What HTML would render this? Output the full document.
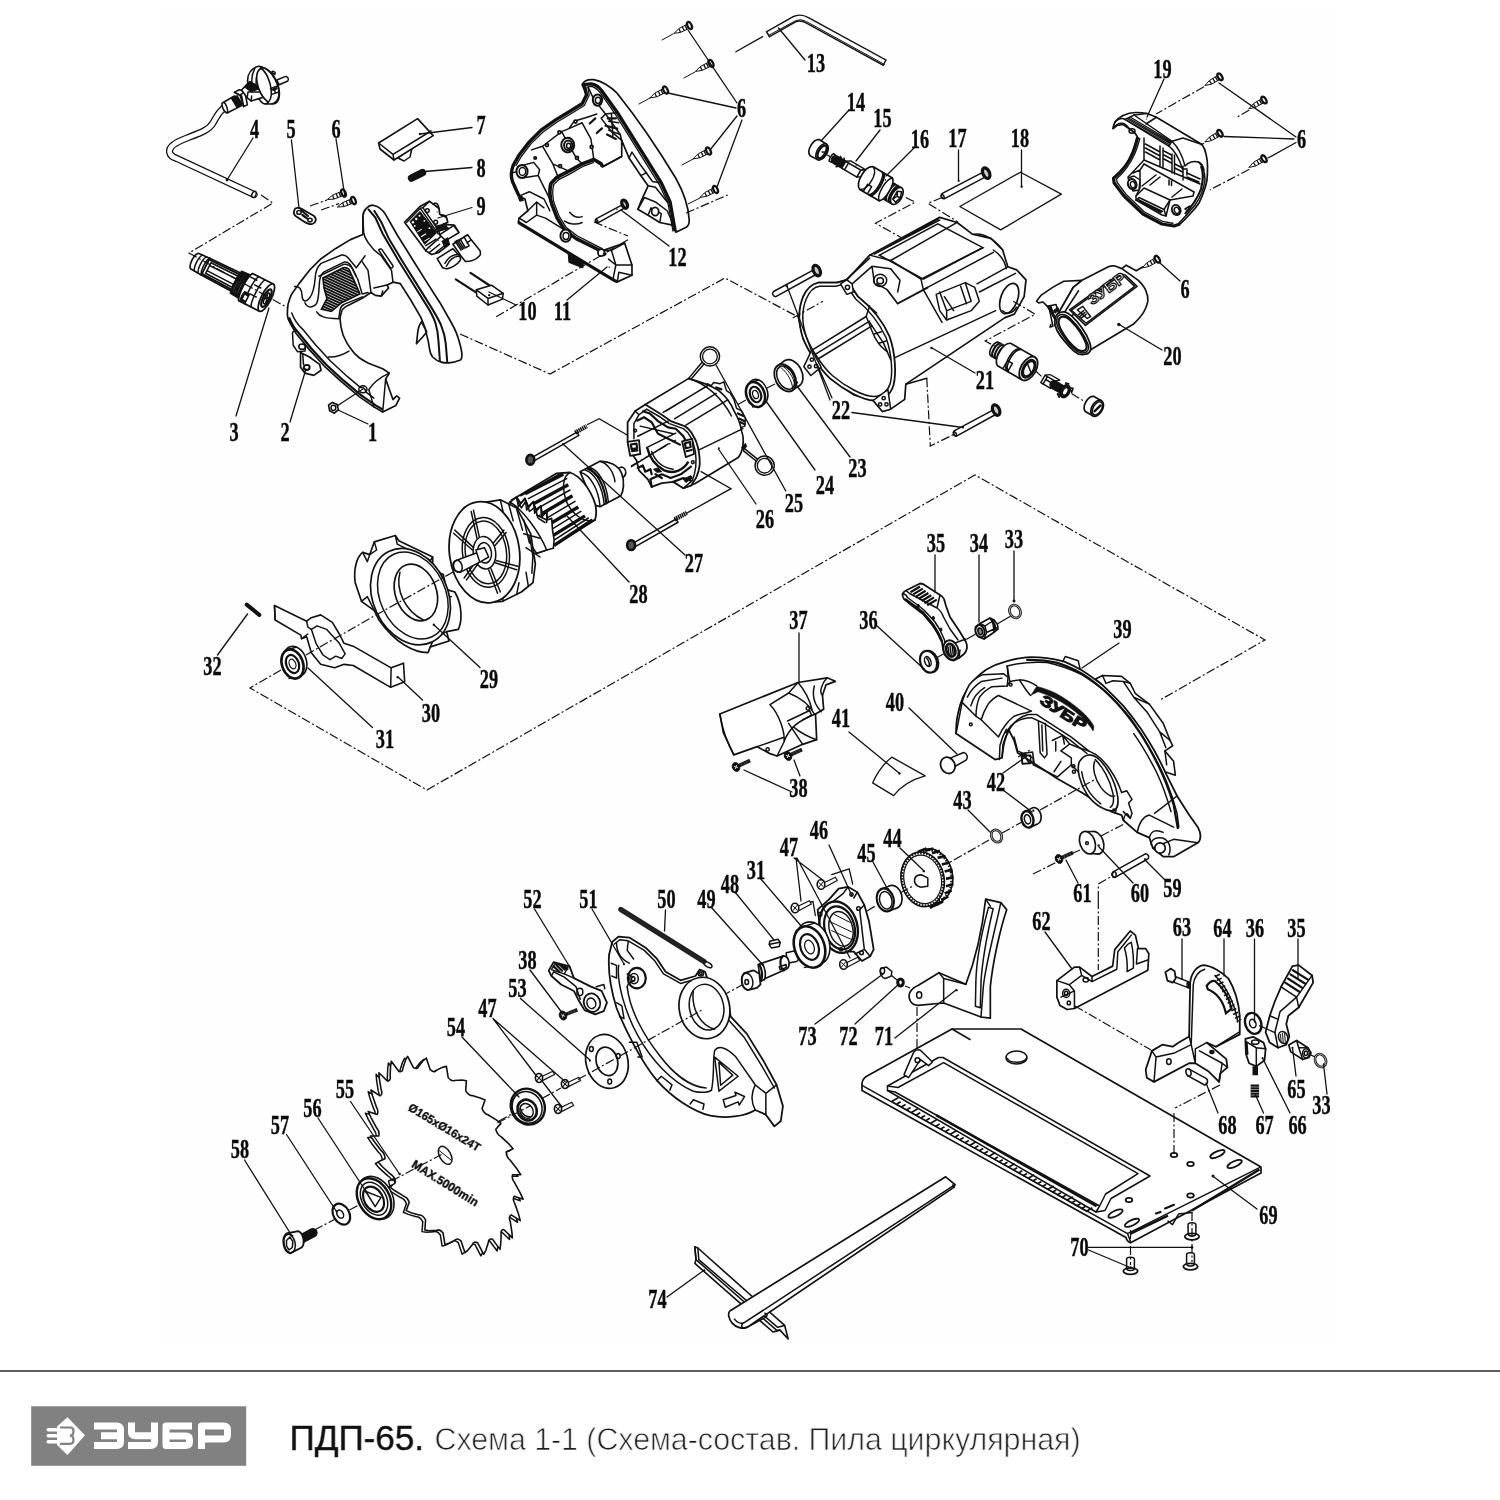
<!DOCTYPE html>
<html><head><meta charset="utf-8"><title>ПДП-65</title>
<style>
html,body{margin:0;padding:0;background:#fff;}
body{width:1500px;height:1500px;overflow:hidden;position:relative;font-family:"Liberation Sans",sans-serif;}
svg{position:absolute;left:0;top:0;display:block}
path,line,ellipse,circle,rect,polygon,polyline{vector-effect:non-scaling-stroke}
.k{fill:none;stroke:#111;stroke-width:1.5;stroke-linecap:round;stroke-linejoin:round}
.w{fill:#fff;stroke:#111;stroke-width:1.5;stroke-linejoin:round}
.b{fill:#111;stroke:#111;stroke-width:1;stroke-linejoin:round}
.t{fill:none;stroke:#111;stroke-width:1;stroke-linecap:round;stroke-linejoin:round}
.h{fill:none;stroke:#111;stroke-width:2.2;stroke-linecap:round;stroke-linejoin:round}
.l{fill:none;stroke:#111;stroke-width:1.3;stroke-linecap:round}
.d{fill:none;stroke:#111;stroke-width:1.2;stroke-dasharray:9 2.5 2 2.5}
</style></head><body>
<svg style="filter:grayscale(1)" width="1500" height="1500" viewBox="0 0 1500 1500">
<rect x="0" y="0" width="1500" height="1500" fill="#fff"/>
<rect x="161" y="9" width="1176" height="1334" fill="#fefefc"/>

<!-- 00_footer.svg -->
<g id="footer">
<rect x="0" y="1370.3" width="1500" height="1.4" fill="#1a1a1a"/>
<rect x="31.2" y="1406.3" width="215" height="59.5" fill="#808184"/>
<g fill="none" stroke="#fff" stroke-width="7" stroke-linejoin="round" stroke-linecap="butt">
<path d="M94,1426 H116.5 Q120.5,1426 120.5,1430 V1441.5 Q120.5,1445.5 116.5,1445.5 H94 M101,1435.75 H120"/>
<path d="M131.5,1422.5 V1432 Q131.5,1435.75 135.5,1435.75 H154.5 M154.5,1422.5 V1441.5 Q154.5,1445.5 150.5,1445.5 H128"/>
<path d="M192,1426 H166 V1445.5 H185.5 Q189.5,1445.5 189.5,1442 V1439.5 Q189.5,1436 185.5,1436 H166"/>
<path d="M201.5,1449 V1426 H223.5 Q227.5,1426 227.5,1430 V1435 Q227.5,1439 223.5,1439 H201.5"/>
</g>
<g fill="#fff" stroke="none">
<path d="M67.5,1417.2 L85,1435.2 L67.5,1455 L57,1445 L57,1426.5 Z"/>
<rect x="46.5" y="1428" width="22" height="3.4" rx="1.7"/>
<rect x="46.5" y="1434" width="22" height="3.4" rx="1.7"/>
<rect x="46.5" y="1440" width="22" height="3.4" rx="1.7"/>
</g>
<path d="M60,1427.5 H70 Q73.5,1427.5 73.5,1431 Q73.5,1435.7 70,1435.7 Q73.5,1435.7 73.5,1440 Q73.5,1443.8 70,1443.8 H60" fill="none" stroke="#808184" stroke-width="2.2"/>
<text x="289.5" y="1449.5" font-family="Liberation Sans" font-size="35.5" fill="#111" stroke="#111" stroke-width="0.35" textLength="134.5" lengthAdjust="spacingAndGlyphs">ПДП-65.</text>
<text x="434.5" y="1449.5" font-family="Liberation Sans" font-size="30.6" fill="#1a1a1a" stroke="#fff" stroke-width="0.75" textLength="646" lengthAdjust="spacingAndGlyphs">Схема 1-1 (Схема-состав. Пила циркулярная)</text>
</g>

<!-- 10_cord.svg -->
<defs>
<g id="scr"><!-- self-tapping screw: head at origin, tip to the left -->
<path class="w" d="M-2,-2.3 L-11,-2.1 L-17.5,0 L-11,2.1 L-2,2.3 Z" style="stroke-width:1"/>
<path d="M-11,-2 L-11,2 M-7,-2.2 L-7,2.2 M-4,-2.2 L-4,2.2" stroke="#111" stroke-width="1.3" fill="none"/>
<ellipse cx="0" cy="0" rx="2" ry="3.8" fill="#fff" stroke="#111" stroke-width="2.3"/>
</g>
<pattern id="hatch" width="12" height="12" patternUnits="userSpaceOnUse" patternTransform="rotate(25)"><rect width="12" height="12" fill="#fff"/><rect width="12" height="9.3" fill="#111"/></pattern>
<pattern id="hatch2" width="2.4" height="2.4" patternUnits="userSpaceOnUse" patternTransform="rotate(-60)"><rect width="2.4" height="2.4" fill="#fff"/><rect width="2.4" height="1.5" fill="#111"/></pattern>
<pattern id="hatch3" width="17" height="17" patternUnits="userSpaceOnUse" patternTransform="rotate(25)"><rect width="17" height="17" fill="#fff"/><rect width="17" height="13" fill="#111"/></pattern>
</defs>
<g transform="translate(150,40) scale(0.2)">
<!-- cord tube -->
<path d="M400,320 C350,345 335,380 315,415 C295,450 250,465 185,490 C120,515 95,535 98,560 C100,580 115,585 135,593 L520,772" fill="none" stroke="#111" stroke-width="7.2" stroke-linecap="round"/>
<path d="M400,320 C350,345 335,380 315,415 C295,450 250,465 185,490 C120,515 95,535 98,560 C100,580 115,585 135,593 L522,773" fill="none" stroke="#fff" stroke-width="4.6" stroke-linecap="round"/>
<ellipse class="w" cx="520" cy="772" rx="10" ry="16" transform="rotate(25 520 772)"/>
<!-- plug -->
</g>
<g transform="translate(200,40) scale(0.08)">
<path class="w" style="stroke-width:1.6" d="M275,790 L430,700 L520,820 L340,912 C300,905 270,830 275,790 Z"/>
<path class="k" d="M300,780 C325,800 350,860 345,908"/>
<path d="M395,722 L470,845 M415,710 L490,835 M435,700 L510,825 M455,692 L528,815" stroke="#111" stroke-width="2.2" fill="none"/>
<path class="w" style="stroke-width:1.6" d="M430,655 L490,622 L560,645 L592,810 L545,832 L520,700 Z"/>
<path class="k" d="M430,655 L500,690 L560,645 M500,690 L545,832"/>
<!-- head disc back -->
<path class="w" style="stroke-width:1.6" d="M595,520 C590,430 640,360 720,332 C760,325 790,345 800,360 L740,740 C690,720 620,640 595,520 Z"/>
<path class="k" d="M690,345 C660,400 640,470 650,540 M770,340 C730,380 700,460 700,540"/>
<path class="w" style="stroke-width:1.6" d="M520,625 L620,520 L860,650 L872,690 L640,762 L590,722 Z"/>
<path class="b" d="M560,592 L628,522 L770,598 L640,650 Z"/>
<path class="k" d="M590,722 L600,650 L860,650 M640,762 L645,700"/>
<ellipse class="w" cx="850" cy="575" rx="120" ry="235" transform="rotate(-22 850 575)" style="stroke-width:1.7"/>
<path class="w" style="stroke-width:1.6" d="M760,350 C800,330 850,370 900,430 C960,510 1000,620 985,700 C975,760 930,800 880,800 L820,800 C870,780 900,720 890,620 C880,520 830,400 760,350 Z"/>
<path class="k" d="M880,610 L975,570 M895,680 L985,650 M930,590 L940,665"/>
<path class="b" d="M905,615 L960,592 L965,610 L910,635 Z"/>
<path class="w" d="M960,500 L1070,455 C1100,455 1112,490 1098,512 L990,560 Z"/>
<path class="w" d="M898,402 C905,385 935,390 940,410 L935,432 Z"/>
<path class="k" d="M740,740 C760,780 800,800 820,800"/>
</g>
<g transform="translate(150,40) scale(0.2)">
<!-- clamp 5 -->
<path class="w" d="M722,850 C725,838 745,836 760,845 L820,880 C835,892 830,915 812,920 C795,925 780,915 765,905 L728,880 C718,872 718,860 722,850 Z" style="stroke-width:1.8"/>
<ellipse class="w" cx="745" cy="862" rx="11" ry="9"/><ellipse class="w" cx="800" cy="900" rx="11" ry="9"/>
<path class="h" d="M755,850 L790,880 M762,875 L785,892"/>
<path class="d" transform="scale(5.000000) translate(-150.0,-40.0)" d="M310.0,206.0 L327.0,200.0 M321.0,210.0 L339.0,203.6"/>
</g>
<use href="#scr" transform="translate(343.5,193) rotate(-22)"/>
<use href="#scr" transform="translate(353.5,200.5) rotate(-22)"/>
<path class="l" d="M253,138 L227,180 M291.4,140 L299,208 M336,139 L345,197"/>
<circle cx="227" cy="180" r="1.4" fill="#111"/>

<!-- 11_btn.svg -->
<g transform="translate(150,40) scale(0.2)">
<!-- 7 button -->
<path class="w" d="M1240,590 L1310,540 L1300,585 L1270,605 Z"/>
<path class="w" d="M1143,515 L1338,393 L1416,478 L1220,600 L1150,545 Z" style="stroke-width:1.6"/>
<path class="k" d="M1143,515 L1215,572 L1405,455 M1215,572 L1220,600"/>
<circle cx="1350" cy="470" r="6" fill="#111"/>
<!-- 8 spring -->
<path d="M1308,690 L1362,663" stroke="#111" stroke-width="7.5" stroke-linecap="round" fill="none"/>
</g>
<path class="l" d="M420,134 L472,127.5 M425,171.5 L472,167.5"/>

<!-- 12_handle.svg -->
<g transform="translate(170,190) scale(0.2)">
<!-- part 3 cord guard -->
</g>
<g transform="translate(180,240) scale(0.08)">
<g transform="translate(215,280) rotate(27) scale(0.97,1.27)">
<path class="w" style="stroke-width:1.6" d="M120,-92 L560,-100 L560,100 L120,92 Z"/>
<path class="k" d="M160,-58 L545,-62 L545,62 L160,58 Z M160,-28 L545,-30 M160,28 L545,30"/>
<path d="M130,-78 L555,-84 M130,78 L555,84" stroke="#111" stroke-width="2" fill="none"/>
<path class="w" style="stroke-width:1.7" d="M-40,-85 L120,-92 L120,92 L-40,85 C-85,60 -85,-60 -40,-85 Z"/>
<path class="k" d="M20,-88 C-18,-60 -18,60 20,88 M75,-90 C38,-60 38,60 75,90 M120,-92 C85,-60 85,60 120,92"/>
<path class="w" style="stroke-width:1.6" d="M560,-120 L700,-128 L700,130 L560,122 Z"/>
<path d="M580,-121 C550,-80 550,80 580,123 M612,-123 C582,-80 582,80 612,125 M644,-125 C614,-80 614,80 644,127 M676,-127 C646,-80 646,80 676,129" stroke="#111" stroke-width="2.4" fill="none"/>
<path class="w" style="stroke-width:1.8" d="M700,-150 L1000,-150 C1065,-100 1065,100 1000,150 L700,150 C655,100 655,-100 700,-150 Z"/>
<path class="k" d="M790,-150 C748,-100 748,100 790,150 M880,-150 C838,-100 838,100 880,150 M790,-60 L880,-60 M790,40 L880,40 M700,-110 L790,-110"/>
<path class="b" d="M715,40 L790,45 L790,150 L715,140 C700,110 700,70 715,40 Z"/>
<path d="M735,70 L775,74 L775,120 L738,116 Z" fill="#fff"/>
<ellipse class="w" cx="1000" cy="0" rx="64" ry="150" style="stroke-width:1.8"/>
<ellipse cx="1004" cy="4" rx="42" ry="95" fill="#fff" stroke="#111" stroke-width="2.2"/>
<ellipse class="k" cx="1008" cy="6" rx="24" ry="58"/>
<path class="k" d="M985,-60 L1030,60 M975,20 L1040,-10"/>
</g>
</g>
<g transform="translate(170,190) scale(0.2)">
<!-- handle half 2 -->
</g>
<g transform="translate(280,200) scale(0.146718)">
<!-- lugs -->
<path class="w" d="M85,905 C90,890 110,885 125,895 L180,960 L170,1030 L120,1035 L90,990 Z"/>
<ellipse class="w" cx="150" cy="1000" rx="22" ry="18"/>
<path class="w" style="stroke-width:1.7" d="M140,1040 L200,1070 L270,1120 L280,1160 L230,1195 L170,1180 L140,1140 Z"/>
<ellipse cx="182" cy="1142" rx="20" ry="17" fill="#fff" stroke="#111" stroke-width="2"/>
<path class="k" d="M155,1050 L160,1120"/>
<!-- silhouette -->
<path class="w" style="stroke-width:1.7" d="M565,110 C565,85 575,70 590,55 C605,40 620,35 630,35 C650,38 668,45 680,55 C700,70 712,85 720,100 L800,240 L900,400 L1000,560 L1090,700 L1170,840 C1195,885 1210,920 1220,960 C1232,1000 1240,1030 1240,1060 C1240,1075 1237,1085 1230,1090 C1200,1102 1175,1108 1150,1110 C1130,1112 1115,1110 1100,1105 C1075,1098 1055,1085 1040,1070 C1030,1055 1022,1040 1020,1020 L1010,960 L990,880 L965,830 C950,850 940,880 938,910 L930,980 L975,930 L1000,900 L960,800 L890,680 L820,570 L770,560 L730,580 L740,600 L690,655 L650,650 L620,630 L560,670 L460,720 C435,735 420,750 420,760 C410,790 408,810 410,820 C412,860 420,890 430,920 C445,955 460,985 480,1010 C500,1040 520,1060 540,1075 C570,1095 595,1110 620,1120 L700,1150 L745,1180 L720,1220 L770,1360 L795,1335 L815,1350 L790,1400 L700,1445 L640,1410 L540,1340 L420,1240 L300,1130 L200,1020 L110,910 L70,840 C55,815 50,795 50,780 C50,755 52,730 55,710 C62,685 70,660 80,640 L130,570 L200,480 L280,400 L380,330 L480,270 L565,235 Z"/>
<!-- bar lines -->
<path d="M600,60 L650,120 L700,230 L800,400 L900,560 L1000,720 C1035,775 1050,810 1060,840 C1072,880 1078,920 1080,960 L1090,1100" fill="none" stroke="#111" stroke-width="2"/>
<path d="M640,70 L690,150 L740,260 L830,410 L930,570 L1030,730 C1070,795 1090,830 1100,860 C1118,905 1126,940 1130,980 L1140,1105" fill="none" stroke="#111" stroke-width="2"/>
<path class="k" d="M565,110 L570,220 C575,250 585,270 600,290 L640,340 L690,380 L760,480 L770,560"/>
<path class="k" d="M672,340 C680,330 690,332 696,340 L770,448 C774,458 760,468 752,462 Z"/>
<path class="k" d="M560,420 L600,480 L620,630 M640,600 L730,580 M690,655 L700,620"/>
<!-- inlay -->
<path class="k" d="M100,590 C130,585 150,610 150,650 C152,690 175,700 200,670 C225,640 235,600 240,530 C242,490 255,455 280,432 L420,375 C440,372 455,382 470,400 L520,462 L580,380"/>
<path class="k" d="M170,700 C185,735 225,740 250,705 C262,680 265,640 268,570 C270,530 280,505 300,490 L440,422 C460,420 475,432 485,450 L520,520"/>
<path class="k" d="M265,520 L430,440 C455,435 475,445 490,462 L530,540 L560,640 L600,630 M250,762 C270,795 300,805 400,810 L410,745 C415,725 425,715 440,710 L560,660"/>
<path d="M292,532 L430,462 C445,458 460,462 470,472 L510,560 L545,640 L420,700 L350,760 L282,745 L320,672 L300,600 Z" fill="url(#hatch3)" stroke="#111" stroke-width="1.6"/>
<!-- lower edge lines -->
<path d="M62,800 C75,835 88,865 122,900 L212,1010 L312,1120 L432,1230 L552,1330 L652,1400 L700,1428" fill="none" stroke="#111" stroke-width="2.2"/>
<path class="k" d="M80,770 C95,810 115,845 152,878 L242,986 L342,1096 L462,1206 L582,1306 L640,1350"/>
<path class="k" d="M330,1070 C380,1072 430,1055 470,1030"/>
<path class="k" d="M745,1180 C700,1200 640,1240 605,1292 L640,1410 M720,1220 L700,1445"/>
<ellipse class="w" cx="565" cy="1290" rx="28" ry="24"/><path class="k" d="M548,1278 C565,1275 580,1285 585,1305"/>
</g>
<g transform="translate(170,190) scale(0.2)">
<!-- nut 1 -->
<path class="w" style="stroke-width:1.6" d="M793,1075 L812,1062 L836,1072 L842,1098 L822,1116 L798,1104 Z"/>
<ellipse class="k" cx="817" cy="1089" rx="12" ry="13"/>
</g>
<path class="l" d="M337,406 L363,389 M368,424 L338,410 M290,422 L306,369 M236,416 L269,308"/>
<path class="d" d="M261,195 L273,203 L189,253 L288,308"/>

<!-- 13_handleR.svg -->
<g transform="translate(390,60) scale(0.233333)">
<!-- part 11 -->
</g>
<g transform="translate(500,70) scale(0.146628)">
<path class="w" style="stroke-width:1.7" d="M560,100 C570,75 600,62 640,66 C700,78 760,120 800,160 L900,290 L1000,430 L1100,580 L1200,740 C1250,830 1285,930 1290,1020 C1292,1050 1285,1065 1270,1072 L1200,1106 L1185,1060 L1090,1040 L1010,990 L940,950 L960,900 L1010,790 L960,720 L880,600 L830,480 L830,590 L700,660 L690,640 L640,610 L560,640 L470,690 L390,730 L350,770 L340,840 L355,920 L390,1010 L440,1090 L520,1150 L600,1190 L690,1235 L850,1180 L900,1330 L900,1400 L800,1445 L770,1430 L125,1040 L130,1010 L190,960 L170,880 L130,860 L85,760 C72,720 78,680 90,650 L130,580 L200,490 L280,410 L380,340 L480,280 L560,230 L590,170 Z"/>
<!-- thick rims -->
<path d="M1195,1100 L1160,900 L1100,770 L1000,610 L900,450 L800,290 L700,150 C680,120 650,98 620,95 L575,100 L590,170 L560,230 L480,280 L380,340 L280,410 L200,490 L130,580 L90,650 C75,690 75,730 85,760 L130,860" fill="none" stroke="#111" stroke-width="3.4" stroke-linejoin="round"/>
<path d="M1180,1100 L1145,905 L1085,780 L985,620 L885,460 L785,300 L690,165 C672,140 650,118 625,112 L600,115 L608,172 L575,242 L490,295 L390,355 L292,425 L212,502 L145,590 L108,655" fill="none" stroke="#111" stroke-width="1.3" stroke-linejoin="round"/>
<path d="M700,660 L690,640 L640,610 L560,640 L470,690 L390,730 L350,770 C335,800 338,880 355,920 L390,1010 L440,1090 L520,1150 L600,1190 L690,1235 L722,1262" fill="none" stroke="#111" stroke-width="3.6" stroke-linejoin="round"/>
<path d="M640,630 L565,658 L478,708 L400,748 L368,780 C355,810 358,880 372,915 L405,1000 L452,1075 L528,1132 L606,1172 L700,1220" fill="none" stroke="#111" stroke-width="1.3" stroke-linejoin="round"/>
<path d="M125,1040 L770,1430 L800,1445" fill="none" stroke="#111" stroke-width="3.2"/>
<!-- inner details -->
<path class="k" d="M600,115 L640,200 L720,300 L820,440 L830,480 M720,300 L690,330 L760,420 L830,480 M700,660 L830,590 M880,600 L900,560 L960,650 L1040,760 L1100,770 M960,720 L1000,700 M1010,790 L1060,800 L1145,905 M940,950 L985,870 L1060,900 L1140,960 L1185,1060 M1010,990 L1030,940 L1100,980 L1090,1040"/>
<path class="k" d="M215,545 L290,520 L360,640 L400,740 M290,520 L420,420 L470,400 L560,360 L620,470 L640,610 M420,420 L520,600 L560,640 M470,400 L505,350 L600,320 L660,300 M360,640 L470,690"/>
<path class="k" d="M90,700 L130,690 L250,700 L330,860 L350,900 M130,860 L200,830 L300,880 L340,960 M190,960 L250,900 L300,940 M130,1010 L180,1040 L250,990 L310,1010 L440,1090 M250,990 L250,900"/>
<path class="k" d="M690,1235 L760,1230 L790,1330 L770,1430 M760,1230 L850,1180 M790,1330 L900,1330 M740,1290 L790,1330 M800,1445 L810,1380 L900,1400"/>
<path class="k" d="M475,970 C500,1000 530,1010 560,1000 M440,1030 C470,1050 520,1060 560,1040"/>
<!-- bosses -->
<path class="w" d="M120,660 L230,630 L270,680 L260,720 L160,735 Z"/>
<ellipse class="w" cx="150" cy="692" rx="38" ry="44" style="stroke-width:2"/><ellipse class="k" cx="153" cy="692" rx="22" ry="27"/>
<ellipse class="w" cx="462" cy="512" rx="44" ry="50" style="stroke-width:2"/><ellipse class="k" cx="465" cy="514" rx="28" ry="33" style="stroke-width:2"/><ellipse class="k" cx="468" cy="516" rx="14" ry="17"/>
<ellipse class="w" cx="665" cy="205" rx="32" ry="38" style="stroke-width:2"/><ellipse class="k" cx="668" cy="207" rx="18" ry="22"/>
<ellipse class="w" cx="448" cy="1130" rx="36" ry="42" style="stroke-width:2"/><ellipse class="k" cx="450" cy="1132" rx="20" ry="24"/>
<ellipse class="w" cx="690" cy="1246" rx="22" ry="24" style="stroke-width:1.8"/>
<ellipse class="w" cx="1058" cy="965" rx="24" ry="28" style="stroke-width:1.8"/>
<g fill="#fff" stroke="#111" stroke-width="1.8"><circle cx="405" cy="425" r="10"/><circle cx="320" cy="512" r="10"/><circle cx="515" cy="352" r="10"/><circle cx="410" cy="655" r="10"/><circle cx="525" cy="600" r="10"/><circle cx="625" cy="525" r="10"/><circle cx="240" cy="600" r="8"/></g>
<path class="h" d="M612,365 L650,330 M660,430 L695,398 M735,330 L790,330 M720,380 L800,400 M730,440 L790,470"/>
<path class="k" d="M720,300 L800,290 M740,350 L810,360 M740,410 L820,440 M760,300 L770,450"/>
<path class="b" d="M465,1250 L570,1310 L565,1350 L470,1312 Z"/>
<path class="b" d="M125,870 L150,860 L160,890 L135,895 Z"/>
<circle cx="745" cy="1345" r="5" fill="#111"/>
<!-- bolt 12 -->
<path class="w" d="M655,1015 L830,922 L842,945 L668,1042 C650,1045 645,1025 655,1015 Z"/>
<ellipse cx="850" cy="915" rx="17" ry="30" transform="rotate(-25 850 915)" fill="#ccc" stroke="#111" stroke-width="3.2"/>
<ellipse class="k" cx="660" cy="1030" rx="6" ry="11" transform="rotate(-25 660 1030)"/>
<circle cx="798" cy="950" r="5" fill="#111"/>
</g>
<path class="d" d="M594,222 L628,236"/>
<g transform="translate(390,60) scale(0.233333)">
<!-- part 9 switch -->
</g>
<g transform="translate(395,190) scale(0.073333)">
<path class="w" style="stroke-width:1.6" d="M575,935 L790,800 L880,900 C900,930 895,950 885,965 C850,1020 760,1070 700,1075 L650,1060 Z"/>
<path class="k" d="M700,1040 C740,960 800,900 880,905 M680,1000 C720,930 780,880 860,880"/>
<path class="w" style="stroke-width:1.6" d="M790,740 L990,610 L1040,680 L1160,830 C1170,870 1165,890 1150,900 C1110,945 1030,975 960,975 L900,900 Z"/>
<path class="k" d="M940,640 L1010,760 L960,790 L890,670 M820,700 L900,820 M840,690 L920,810 M862,680 L940,800 M1040,680 L980,720"/>
<path class="w" style="stroke-width:1.7" d="M130,440 L340,225 L470,155 L520,190 L600,250 L610,330 L700,370 L720,440 L650,470 L810,480 L870,580 L700,680 L740,740 L600,850 L500,880 L420,830 L340,720 Z"/>
<path class="b" d="M205,430 L340,292 L565,585 L405,742 Z"/>
<g fill="#fff"><circle cx="245" cy="440" r="16"/><circle cx="290" cy="395" r="16"/><circle cx="335" cy="350" r="14"/><circle cx="270" cy="490" r="12"/><rect x="300" y="545" width="70" height="14" transform="rotate(-32 335 552)"/><rect x="350" y="610" width="80" height="14" transform="rotate(-32 390 617)"/><rect x="395" y="670" width="80" height="12" transform="rotate(-32 435 676)"/><circle cx="400" cy="420" r="12"/><circle cx="470" cy="520" r="12"/></g>
<path class="k" d="M160,440 L345,250 L380,240 L600,560 L620,640 L440,800 L420,830 M380,240 L470,155 M345,250 L590,600"/>
<circle class="w" cx="440" cy="280" r="26"/><circle class="w" cx="555" cy="440" r="26"/>
<path class="w" d="M520,190 C540,170 580,180 590,215 L600,250 Z"/><path class="w" d="M630,345 C660,330 700,350 705,390 L700,370 Z"/>
<path class="h" d="M560,500 L680,470 M570,530 L700,495 M585,560 L720,520"/>
<path class="w" d="M610,610 L800,485 L870,580 L690,690 Z"/>
<path class="b" d="M640,700 L720,650 L740,740 L680,780 Z"/>
<path class="k" d="M420,760 L560,670 M470,850 L610,740 M560,850 L700,740 L740,740"/>
<circle cx="575" cy="300" r="8" fill="#111"/><circle cx="590" cy="690" r="7" fill="#111"/><circle cx="480" cy="795" r="7" fill="#111"/>
</g>
<g transform="translate(390,60) scale(0.233333)">
<!-- part 10 capacitor -->
<path class="h" d="M282,940 L375,1000 M345,912 L440,975"/>
<path class="w" d="M370,985 L435,965 L485,1000 L482,1025 L420,1050 L372,1012 Z"/>
<path class="k" d="M370,985 L420,1022 L485,1000 M420,1022 L420,1050"/>
<circle cx="425" cy="1008" r="5" fill="#111"/>
<path class="d" transform="scale(4.285720) translate(-390.0,-60.0)" d="M496.2,316.7 L628.0,239.7"/>
</g>
<use href="#scr" transform="translate(689.5,25.5) rotate(-27)"/>
<use href="#scr" transform="translate(711,63.5) rotate(-27)"/>
<use href="#scr" transform="translate(665.5,90) rotate(-27)"/>
<use href="#scr" transform="translate(708.5,151) rotate(-27)"/>
<use href="#scr" transform="translate(715.5,189.5) rotate(-27)"/>
<path class="t" d="M673,34 L662,40 M695,72 L684,78 M650,98 L639,104 M693,159 L682,165 M700,198 L688,204"/>
<path class="l" d="M688,30 L737,103 M712,66 L737,103 M668,93 L736,108 M710,150 L737,116 M717,187 L742,120"/>
<path class="l" d="M472,207.5 L438,218 M516,305 L489,292 M567,300 L607,267 M669,246 L621,210"/>
<path class="d" d="M460,334 L550,374 L725,278 L800,318"/>
<path class="d" d="M686,213 L730,194"/>

<!-- 20_top.svg -->
<g transform="translate(730,0) scale(0.233333)">
<!-- 13 hex key -->
<path d="M160,148 L275,83 Q302,70 330,86 L665,270" fill="none" stroke="#111" stroke-width="7.2" stroke-linecap="butt" stroke-linejoin="round"/>
<path d="M165.5,145 L275,83 Q302,70 330,86 L660,267" fill="none" stroke="#fff" stroke-width="4.4" stroke-linecap="butt" stroke-linejoin="round"/>
<path class="t" d="M165,152 L280,89 Q302,78 327,92 L662,276"/>
<path class="l" d="M140,157 L25,222"/>
<!-- 14 ring -->
</g>
<g transform="translate(800,125) scale(0.08)">
<g transform="translate(185,283) rotate(30.5)">
<path class="w" style="stroke-width:1.7" d="M0,-116 L105,-112 L105,112 L0,116 C-75,90 -75,-90 0,-116 Z"/>
<ellipse class="w" cx="105" cy="0" rx="62" ry="112" style="stroke-width:1.7"/>
<ellipse cx="110" cy="0" rx="46" ry="90" fill="#fff" stroke="#111" stroke-width="2.2"/>
<path class="k" d="M120,-80 C150,-40 150,40 120,82 M105,0 L150,-20"/>
<circle cx="70" cy="-112" r="9" fill="#111"/>
<!-- 15 -->
<path class="l" d="M168,0 L255,0 M650,0 L720,0"/>
<path class="w" d="M240,-55 L275,-50 L275,50 L240,55 C225,30 225,-30 240,-55 Z"/>
<path d="M300,0 L420,0" stroke="#111" stroke-width="9.5" stroke-linecap="round" fill="none"/>
<path class="k" d="M330,-70 L360,-50 M380,-75 L400,-52 M350,70 L370,52"/>
<path class="w" style="stroke-width:1.6" d="M420,-50 L640,-50 L640,50 L420,50 Z"/>
<path class="w" style="stroke-width:1.4" d="M420,-50 L470,-85 L690,-85 L640,-50 Z"/>
<path class="w" style="stroke-width:1.4" d="M640,-50 L690,-85 L690,15 L640,50 Z"/>
<path class="k" d="M460,-50 L460,50"/>
<circle cx="560" cy="-68" r="8" fill="#111"/>
<!-- 16 -->
<path class="w" style="stroke-width:1.6" d="M1030,-118 L1190,-118 L1190,118 L1030,118 Z"/>
<path d="M1065,-118 C1020,-80 1020,80 1065,118 M1105,-118 C1060,-80 1060,80 1105,118 M1145,-118 C1100,-80 1100,80 1145,118" fill="none" stroke="#111" stroke-width="2.3"/>
<ellipse class="w" cx="1190" cy="0" rx="62" ry="118" style="stroke-width:1.7"/>
<path class="k" d="M1165,-55 L1215,-75 L1240,0 L1215,75 L1165,60 Z M1165,-55 L1195,0 L1165,60 M1195,0 L1240,0"/>
<path class="w" style="stroke-width:1.7" d="M750,-165 L1030,-165 C1095,-120 1095,120 1030,165 L750,165 C655,125 655,-125 750,-165 Z"/>
<path class="k" d="M750,-165 C845,-125 845,125 750,165"/>
<path d="M900,-165 C965,-120 965,120 900,165" fill="none" stroke="#111" stroke-width="2.2"/>
<path class="k" d="M880,-165 C945,-120 945,120 880,165 M1030,-165 C965,-120 965,120 1030,165"/>
<path class="k" d="M800,60 L860,60 L860,150 M800,60 L800,160"/>
<circle cx="965" cy="-100" r="10" fill="#111"/>
</g>
</g>
<g transform="translate(730,0) scale(0.233333)">
<!-- 17 bolt -->
<path class="w" d="M908,830 L1085,738 L1095,758 L918,852 C905,852 900,838 908,830 Z"/>
<ellipse cx="1098" cy="742" rx="14" ry="24" transform="rotate(-25 1098 742)" fill="#ccc" stroke="#111" stroke-width="3.2"/>
<ellipse class="k" cx="912" cy="842" rx="5" ry="9" transform="rotate(-25 912 842)"/>
<!-- 18 label -->
<path class="w" d="M985,885 L1245,738 L1420,832 L1160,985 Z" style="stroke-width:1.3"/>
<circle cx="1250" cy="800" r="5" fill="#111"/><circle cx="980" cy="775" r="5" fill="#111"/>
</g>
<path class="d" d="M905.8,197.5 L915.2,202.2 L875.5,223.2 L901.2,237.6 M942,197.5 L928,203.3 L957.2,221.5 L888.3,260.5"/>
<path class="l" d="M805,60 L778.5,28 M849,110 L821,141 M880,130 L856,161 M914,148 L886,176 M958.5,150 L958.5,180 M1021.5,150 L1021.5,186"/>

<!-- 21_housing.svg -->
<g transform="translate(760,180) scale(0.233333)">
<!-- bolt 22 upper-left -->
<path class="w" d="M58,478 L230,385 L240,405 L68,500 C55,500 50,486 58,478 Z"/>
<ellipse cx="243" cy="388" rx="14" ry="24" transform="rotate(-25 243 388)" fill="#ccc" stroke="#111" stroke-width="3.2"/>
<!-- housing body -->
<path class="w" style="stroke-width:1.7" d="M250,440 L330,440 L372,428 L470,322 L770,160 L845,182 L910,232 L990,250 L1040,300 L1062,372 L1100,385 L1140,428 L1132,500 L1090,575 L1050,590 L625,875 L620,940 L560,982 L525,992 L485,945 L400,920 L300,850 L230,760 L185,680 L165,590 L185,500 Z"/>
<!-- rear loop -->
<path class="k" d="M920,232 C960,225 1010,260 1040,300 M1000,300 C1030,320 1050,350 1055,380 M1062,372 L930,445 M1095,400 L940,480"/>
<ellipse class="w" cx="1068" cy="508" rx="36" ry="68" transform="rotate(20 1068 508)" style="stroke-width:1.7"/>
<path class="k" d="M1040,560 C1060,580 1085,570 1100,545"/>
<!-- top panel -->
<path class="k" d="M470,322 L560,345 L845,182 M490,318 L770,172 M500,312 L765,166 M560,345 L690,425 L700,470 L780,610"/>
<path d="M512,322 L762,188 L955,290 L700,425 Z" fill="none" stroke="#111" stroke-width="1.6"/>
<path class="k" d="M690,425 L955,290 M700,470 L1000,310"/>
<path d="M545,470 L590,530 L720,460" fill="none" stroke="#111" stroke-width="1.8"/>
<!-- side switch -->
<path class="w" d="M755,490 L880,440 L920,460 L940,520 L905,560 L800,600 L770,560 Z"/>
<path class="k" d="M770,480 L800,560 L905,520 L880,440 M800,560 L800,600 M790,500 L830,560 M860,455 L885,530"/>
<!-- body lines -->
<path class="k" d="M560,770 L1010,560 M625,875 L715,850 M372,428 L420,500 L500,570 M350,445 L470,335"/>
<!-- front opening -->
<path class="w" style="stroke-width:1.8" d="M250,440 L330,440 L372,428 L420,500 C470,540 520,590 555,670 C580,740 585,830 572,880 C560,920 530,945 490,945 C440,945 360,900 300,850 C250,805 200,720 185,680 C165,620 160,560 185,500 C200,465 225,445 250,440 Z"/>
<path class="k" d="M255,455 L325,455 L365,445 L410,510 C460,550 505,600 540,675 C565,745 570,830 558,872 C548,905 522,928 488,928 C440,926 365,885 310,838 C262,795 215,715 200,675 C180,620 178,560 198,510 C212,475 232,458 255,455 Z"/>
<path class="k" d="M230,725 L455,585 M240,745 L470,605 M252,765 L480,625 M455,585 C480,640 490,700 545,735 M470,540 L455,585"/>
<path class="k" d="M470,610 L530,700 L560,770 M490,660 L520,650 M510,700 L540,690"/>
<!-- ears -->
<path class="w" d="M188,800 L222,728 L262,802 L218,838 Z"/>
<circle class="k" cx="222" cy="770" r="7"/><circle class="k" cx="212" cy="800" r="7"/><circle class="k" cx="240" cy="798" r="7"/>
<path class="w" d="M485,945 L548,898 L560,982 L525,992 Z"/>
<circle class="k" cx="530" cy="935" r="7"/><circle class="k" cx="515" cy="962" r="7"/><circle class="k" cx="542" cy="962" r="7"/>
<path class="w" d="M345,445 L372,428 L395,445 L400,480 L372,490 Z"/><circle class="k" cx="375" cy="460" r="9"/>
<!-- inner top -->
<path class="k" d="M395,445 L480,370 L560,380 L600,430 L590,480 M480,370 L490,440"/>
<ellipse class="k" cx="515" cy="430" rx="28" ry="26"/><ellipse class="k" cx="515" cy="432" rx="14" ry="13"/>
<path class="k" d="M500,445 L545,470"/>
<!-- bolt 22 lower-right -->
<path class="w" d="M832,1075 L1000,985 L1010,1005 L842,1098 C829,1098 824,1083 832,1075 Z"/>
<ellipse cx="1012" cy="986" rx="14" ry="24" transform="rotate(-25 1012 986)" fill="#ccc" stroke="#111" stroke-width="3.2"/>
<ellipse class="k" cx="836" cy="1088" rx="5" ry="9" transform="rotate(-25 836 1088)"/>
<!-- 23 ring -->
<ellipse cx="137" cy="828" rx="42" ry="62" transform="rotate(-28 137 828)" fill="#fff" stroke="#111" stroke-width="1.7"/>
<path d="M79,793 L108,773 L166,883 L137,903 Z" fill="#fff" stroke="none"/>
<path class="k" d="M79,793 L108,773 M137,903 L166,883"/>
<ellipse cx="108" cy="848" rx="42" ry="62" transform="rotate(-28 108 848)" fill="#fff" stroke="#111" stroke-width="1.8"/>
<ellipse class="k" cx="110" cy="847" rx="34" ry="53" transform="rotate(-28 110 847)"/>
<path class="t" d="M100,800 C130,820 150,860 150,890 M110,798 C138,818 158,855 158,882 M92,806 C120,828 140,868 140,896"/>
<circle cx="158" cy="868" r="5" fill="#111"/>
<!-- chuck right -->
</g>
<g transform="translate(985,335) scale(0.086667)">
<g transform="translate(142,180) rotate(30)">
<path class="w" style="stroke-width:1.6" d="M-40,-90 L90,-92 L90,92 L-40,90 C-90,60 -90,-60 -40,-90 Z"/>
<path d="M-10,-91 C-55,-60 -55,60 -10,91 M25,-92 C-20,-60 -20,60 25,92 M60,-92 C15,-60 15,60 60,92" fill="none" stroke="#111" stroke-width="2.2"/>
<path class="w" style="stroke-width:1.7" d="M90,-150 L415,-150 L415,150 L90,150 C10,110 10,-110 90,-150 Z"/>
<path class="k" d="M215,-150 C135,-110 135,110 215,150 M235,-150 C155,-110 155,110 235,150 M160,40 L225,40 L225,140 M160,40 L160,135"/>
<ellipse class="w" cx="415" cy="0" rx="88" ry="150" style="stroke-width:1.8"/>
<ellipse cx="418" cy="0" rx="62" ry="110" fill="#fff" stroke="#111" stroke-width="2.4"/>
<ellipse class="k" cx="420" cy="0" rx="50" ry="92"/>
<path class="k" d="M380,-40 L470,30"/>
<!-- brush -->
<path class="w" style="stroke-width:1.5" d="M620,-30 L750,-30 L750,70 L620,70 Z"/>
<path class="w" style="stroke-width:1.3" d="M620,-30 L665,-65 L795,-65 L750,-30 Z"/>
<path class="k" d="M650,-30 L650,70 M650,10 L750,10"/>
<path d="M765,15 L860,15" stroke="#111" stroke-width="9.5" stroke-linecap="round" fill="none"/>
<path class="w" d="M870,-70 L905,-80 L905,-40 Z"/><path class="w" d="M850,85 L885,110 L890,70 Z"/><path class="w" d="M940,-45 L975,-60 L985,-10 Z"/>
<ellipse cx="912" cy="15" rx="46" ry="72" fill="#fff" stroke="#111" stroke-width="2.6"/>
<ellipse class="k" cx="915" cy="15" rx="28" ry="48"/>
<!-- cap -->
<path class="w" style="stroke-width:1.7" d="M1230,-100 L1330,-100 L1330,100 L1230,100 C1165,75 1165,-75 1230,-100 Z"/>
<ellipse class="w" cx="1330" cy="0" rx="62" ry="100" style="stroke-width:1.8"/>
<ellipse class="k" cx="1333" cy="0" rx="48" ry="82"/>
<path d="M1350,-55 L1320,55" stroke="#111" stroke-width="2.4" fill="none"/>
</g>
</g>
<g transform="translate(760,180) scale(0.233333)">
<circle cx="735" cy="720" r="5" fill="#111"/><circle cx="115" cy="455" r="5" fill="#111"/><circle cx="870" cy="1060" r="5" fill="#111"/>
<path class="d" transform="scale(4.285720) translate(-760.0,-180.0)" d="M792.7,318.1 L823.0,301.3 M1013.2,301.3 L1035.3,314.2 L985.2,341.0 L996.1,346.8 M1034.9,370.2 L1043.5,378.3 M1071.5,393.5 L1084.8,401.7 M926.8,378.3 L930.3,446.0 L954.1,434.3"/>
</g>
<path class="l" d="M975,373 L932,348 M832,398 L817,364 M787,286 L830,400 M852,412.5 L963,427.5"/>

<!-- 22_cover.svg -->
<g transform="translate(1020,40) scale(0.266667)">
<!-- 19 -->
</g>
<g transform="translate(1100,90) scale(0.1)">
<path class="w" style="stroke-width:1.7" d="M130,385 C135,350 145,330 150,320 C170,290 200,270 230,255 C270,235 320,225 360,225 C400,225 440,228 470,235 L560,270 L1020,545 C1045,580 1055,610 1060,640 C1072,690 1076,720 1075,760 C1076,810 1074,860 1070,900 C1062,945 1052,980 1040,1010 C1025,1055 1010,1090 990,1130 C960,1175 930,1210 900,1240 C865,1280 830,1315 800,1340 L740,1360 L620,1340 L430,1240 L240,1060 L140,930 L130,880 L200,820 C240,780 270,740 290,700 C320,650 340,600 350,560 L375,470 L350,430 L290,385 L230,345 L170,355 Z"/>
<path d="M378,470 L352,560 C340,605 320,652 292,702 C270,742 240,782 202,822 L136,884 L142,930 L240,1060 L430,1240 L620,1340 L740,1360 L800,1340" fill="none" stroke="#111" stroke-width="3.2" stroke-linejoin="round"/>
<path d="M400,480 L375,565 C362,610 342,655 315,705 C292,745 262,790 225,830 L165,890 L172,925 L262,1045 L445,1220 L628,1315 L735,1335" fill="none" stroke="#111" stroke-width="1.3"/>
<path class="k" d="M130,385 C170,330 240,300 290,385 M150,320 C190,285 230,280 250,295"/>
<!-- ribbed strip -->
<path d="M250,295 L340,250 L720,512 L690,562 Z" fill="#fff" stroke="#111" stroke-width="1.4"/>
<path d="M262,300 L695,548 M275,290 L702,535 M290,282 L708,524 M305,273 L714,516" stroke="#111" stroke-width="1.2" fill="none"/>
<path class="k" d="M460,340 L560,275 M340,250 L470,235 M720,512 L830,480 L1020,545 M720,512 C770,560 820,640 850,760 M690,562 C740,600 790,680 825,790 M850,760 C880,720 940,705 985,720 C1030,760 1050,830 1050,900 C1040,980 1000,1080 950,1150 C910,1200 850,1270 790,1330 M825,790 L870,790 L870,850"/>
<path class="k" d="M985,720 C1010,730 1030,750 1040,800"/>
<path d="M1010,760 C1035,820 1035,900 1010,990 C985,1060 930,1150 850,1240" fill="none" stroke="#111" stroke-width="2.2"/>
<!-- inner structure -->
<path class="k" d="M440,480 L440,700 L1000,940 M440,740 L940,1020 M455,540 L600,620 M455,580 L600,660 M455,620 L600,700 M600,560 L600,770 M630,580 L630,785 M720,640 L720,830 M745,650 L745,840 M830,760 L830,900 M640,610 L715,650 M640,650 L715,690 M640,690 L715,730 M750,740 L825,780 M750,780 L825,820 M870,830 L1000,890 M870,870 L990,920"/>
<path class="k" d="M440,700 L300,850 L280,870 M440,740 L400,800 L330,830 M400,800 L400,980 L360,1060 M560,850 L420,960 M600,870 L500,950 M690,900 L690,950 M715,910 L715,955 M940,1020 L930,1060 L700,1100 M820,990 L720,1070"/>
<path class="w" d="M360,1060 L440,980 L700,1100 L660,1260 L620,1250 L360,1100 Z"/>
<path class="k" d="M360,1100 L390,1075 L640,1195 L660,1260 M640,1195 L700,1100"/>
<path class="k" d="M380,1095 L625,1215 M395,1115 L610,1225"/>
<path class="w" d="M280,880 L340,860 L400,900 L390,1000 L330,1010 Z"/>
<ellipse class="w" cx="322" cy="942" rx="42" ry="52" transform="rotate(-20 322 942)" style="stroke-width:2"/><ellipse class="k" cx="328" cy="946" rx="24" ry="32" transform="rotate(-20 328 946)"/>
<ellipse class="w" cx="762" cy="1200" rx="42" ry="52" transform="rotate(-20 762 1200)" style="stroke-width:2"/><ellipse class="k" cx="768" cy="1204" rx="24" ry="32" transform="rotate(-20 768 1204)"/>
<path class="k" d="M850,1190 L900,1160 L880,1210 Z"/>
<ellipse class="k" cx="320" cy="410" rx="30" ry="22"/>
<circle cx="465" cy="290" r="6" fill="#111"/>
</g>
<g transform="translate(1020,40) scale(0.266667)">
<path class="d" transform="scale(3.749995) translate(-1020.0,-40.0)" d="M1204.0,86.7 L1156.0,114.1 M1249.3,109.9 L1236.0,117.9 M1204.0,143.2 L1200.8,145.1 M1249.3,169.3 L1209.9,189.9"/>
<!-- 20 -->
</g>
<g transform="translate(1030,250) scale(0.086667)">
<path class="w" style="stroke-width:1.6" d="M75,590 L130,520 L270,425 L390,360 L600,350 L500,430 L330,725 L290,800 L200,650 L150,600 L100,610 Z"/>
<path class="k" d="M200,650 L300,630 L330,725 M225,690 L265,880 L230,890 L240,860"/>
<path class="b" d="M205,650 L240,640 L295,790 L285,800 Z"/><path class="b" d="M270,700 L320,660 L335,690 L290,730 Z"/>
<path class="w" style="stroke-width:1.7" d="M330,725 L500,430 L600,350 L910,190 C940,180 960,182 980,185 L1060,215 L1110,175 L1225,240 L1300,195 L1225,240 L1110,175 L1060,215 L1250,350 C1300,400 1330,440 1340,480 C1360,520 1362,560 1360,590 C1350,640 1335,680 1310,720 C1280,770 1240,810 1200,850 L700,1150 L650,1200 L560,1200 L470,1130 L350,990 L290,870 L290,800 Z"/>
<path class="w" style="stroke-width:1.8" d="M290,800 C295,760 310,740 330,730 C355,712 380,712 400,715 C430,722 455,740 480,760 C525,800 565,850 600,900 C640,955 670,1010 690,1070 C700,1100 703,1125 700,1150 C690,1180 672,1195 650,1200 C620,1208 590,1208 560,1200 C525,1185 495,1160 470,1130 C425,1085 385,1040 350,990 C322,950 302,910 290,870 C285,845 285,820 290,800 Z"/>
<path class="k" d="M308,808 C312,775 328,755 350,748 C385,738 425,752 465,790 C545,865 630,985 668,1085 C682,1130 672,1165 645,1180 C610,1192 575,1188 545,1170 C470,1115 375,1000 325,900 C308,865 304,835 308,808 Z"/>
<path d="M330,818 C334,790 348,775 368,770 C398,764 432,778 468,812 C540,882 615,990 648,1080 C660,1120 652,1148 630,1160 C600,1170 572,1166 548,1150 C480,1100 395,995 348,902 C332,870 326,842 330,818 Z" fill="none" stroke="#111" stroke-width="2.2"/>
<path class="k" d="M480,760 L700,600 M400,715 L560,470"/>
<path class="w" style="stroke-width:1.5" d="M455,690 L1040,270 L1100,290 L1235,420 L640,870 Z"/>
<path class="k" d="M478,695 L1042,292 L1092,308 L1208,420 L648,845 Z"/>
<g transform="translate(718,640) rotate(-36)" opacity="0.999"><text x="0" y="0" font-family="Liberation Sans" font-weight="bold" font-size="172" fill="#fff" stroke="#111" stroke-width="13" textLength="500" lengthAdjust="spacingAndGlyphs">ЗУБР</text></g>
<path class="w" d="M545,690 L610,650 L700,770 L660,790 Z" style="stroke-width:1.4"/>
<path class="k" d="M560,745 L620,700 M575,765 L635,720 M590,785 L650,740"/>
<circle cx="1025" cy="860" r="20" fill="#111"/>
</g>
<use href="#scr" transform="translate(1220,76.8) rotate(-30)"/>
<use href="#scr" transform="translate(1264,100) rotate(-30)"/>
<use href="#scr" transform="translate(1220,133.3) rotate(-30)"/>
<use href="#scr" transform="translate(1264,158.7) rotate(-30)"/>
<use href="#scr" transform="translate(1157.3,259.2) rotate(-30)"/>
<path class="l" d="M1219,83 L1296,137 M1224,136.5 L1294,139 M1268,158 L1296,142.5 M1164,79 L1147,117 M1180,281 L1160,263 M1162,350 L1120,325"/>

<!-- 30_stator.svg -->
<defs>
<g id="brg"><!-- bearing unit size: outer rx 11, ry 15.5 -->
<ellipse cx="3.5" cy="-1.5" rx="11" ry="15.5" fill="#fff" stroke="#111" stroke-width="1.6" transform="rotate(-20)"/>
<path d="M-4,-14.5 L4,-17 M-4,14.5 L8,12" stroke="#111" stroke-width="1.4"/>
<ellipse cx="0" cy="0" rx="10.5" ry="15" fill="#fff" stroke="#111" stroke-width="2.6" transform="rotate(-20)"/>
<ellipse cx="0" cy="0" rx="6.3" ry="9.3" fill="#fff" stroke="#111" stroke-width="2.2" transform="rotate(-20)"/>
<ellipse cx="0" cy="0" rx="3.2" ry="5" fill="#fff" stroke="#111" stroke-width="1.2" transform="rotate(-20)"/>
</g>
</defs>
<g transform="translate(500,330) scale(0.233333)">
<!-- loops 25 -->
</g>
<g transform="translate(620,340) scale(0.126667)">
<circle class="w" cx="710" cy="130" r="76" style="stroke-width:1.5"/><circle class="k" cx="710" cy="130" r="58" style="stroke-width:1.3"/>
<path class="k" d="M648,175 L540,305 M665,188 L560,310"/>
<circle class="w" cx="1142" cy="992" r="76" style="stroke-width:1.5"/><circle class="k" cx="1142" cy="992" r="58" style="stroke-width:1.3"/>
<path class="k" d="M1085,940 L985,860 M1075,955 L975,875"/>
<!-- stator 26 -->
<path class="w" style="stroke-width:1.7" d="M200,510 L540,305 C640,330 720,360 780,400 C840,450 880,510 900,560 C935,620 955,680 960,720 C975,760 975,800 970,830 C965,880 950,910 930,930 L590,1135 L500,1170 L200,900 Z"/>
<path class="k" d="M340,572 L690,362 M430,622 L760,422 M520,672 L850,472 M365,560 L700,355 M620,870 L970,700"/>
<path class="k" d="M560,310 C680,350 800,450 880,600 M690,345 L720,360 L740,335 L790,345 L820,330 L840,400 L870,420 L900,470 L920,540 L960,560 L990,620 L985,680 L960,690"/>
<path class="h" d="M760,375 L800,390 M930,580 L975,600 M940,620 L980,640 M950,650 L985,665"/>
<path class="b" d="M960,850 L990,815 L1000,840 L975,870 Z"/>
<!-- front face -->
<path class="w" style="stroke-width:1.8" d="M60,650 L120,560 L200,510 L330,590 L400,640 L510,680 C545,700 565,730 580,760 C600,790 612,830 620,870 C628,910 630,950 630,980 C625,1030 615,1060 600,1090 L560,1150 L500,1170 L420,1120 L330,1130 L250,1160 L220,1100 L150,1030 L130,950 L80,880 L60,800 Z"/>
<path class="k" d="M120,560 L150,590 L210,545 L320,610 L390,660 L500,700 C545,730 580,800 595,880 C605,950 600,1040 570,1110 L500,1170 M150,590 L110,660 L110,780"/>
<path d="M175,560 L235,580 L300,640 L380,690 L440,700 L500,760 L520,800 M130,640 L190,610 L250,650 L300,740 L420,800 L480,830" fill="none" stroke="#111" stroke-width="2.2"/>
<path class="k" d="M160,680 L420,740 M210,850 L440,735 M140,760 L380,640 M90,1000 L380,820"/>
<path d="M215,850 C230,920 280,990 350,1030 C420,1060 500,1030 540,960" fill="none" stroke="#111" stroke-width="2.4"/>
<path class="k" d="M250,880 C280,960 340,1010 420,1020"/>
<path class="w" d="M60,805 L150,790 L160,900 L80,915 Z" style="stroke-width:1.8"/><path class="h" d="M85,825 L130,818 L135,855 L92,862 Z M95,878 L138,872"/>
<path class="w" d="M490,800 L570,780 L585,900 L520,925 Z" style="stroke-width:1.8"/><path class="h" d="M512,815 L552,805 L558,845 L520,855 Z M525,878 L565,868"/>
<path class="h" d="M140,1010 L180,990 L200,1040 L240,1020 L250,1060 M250,1160 L240,1100 L330,1060 L400,1090 L480,1060 L560,1000 M280,1060 L330,1090 M420,1120 L500,1090 L560,1110"/>
<path class="b" d="M500,1100 L560,1070 L570,1090 L520,1125 Z"/><path class="b" d="M265,1020 L300,1010 L330,1040 L290,1045 Z"/>
<circle class="k" cx="120" cy="715" r="11"/><circle class="k" cx="575" cy="965" r="11"/>
<circle cx="780" cy="855" r="8" fill="#111"/>
</g>
<g transform="translate(500,330) scale(0.233333)">
<!-- bolts 27 -->
<path class="w" d="M140,545 L330,438 L338,452 L148,560 Z"/>
<path d="M322,440 L372,412" stroke="#111" stroke-width="4.4" stroke-dasharray="1.5 0.6" fill="none"/>
<ellipse cx="130" cy="556" rx="17" ry="21" fill="#555" stroke="#111" stroke-width="2.6"/>
<path class="w" d="M572,912 L755,810 L763,824 L580,928 Z"/>
<path d="M748,812 L800,784" stroke="#111" stroke-width="4.4" stroke-dasharray="1.5 0.6" fill="none"/>
<ellipse cx="562" cy="922" rx="17" ry="21" fill="#555" stroke="#111" stroke-width="2.6"/>
<path class="l" d="M375,405 L425,380 L545,450 M800,785 L990,680 L862,607"/>
<circle cx="270" cy="490" r="5" fill="#111"/>
</g>
<g transform="translate(430,440) scale(0.166667)">
<!-- armature 28 -->
<path class="w" d="M1128,170 L1150,162 C1180,170 1182,210 1160,222 L1140,228 Z"/>
<path class="w" style="stroke-width:1.7" d="M900,190 L1020,128 C1070,125 1130,150 1150,200 C1170,250 1160,310 1145,335 L1020,400 L985,390 Z"/>
<path class="k" d="M905,195 C960,210 1010,290 1020,395 M930,180 C985,195 1035,275 1045,385 M960,165 C1010,180 1060,260 1070,372 M1020,128 C1060,140 1100,180 1110,250"/>
<path class="h" d="M945,172 C998,188 1048,268 1058,380"/>
<path class="w" style="stroke-width:1.8" d="M490,360 L760,200 L840,195 C900,215 960,290 990,380 C1000,420 1000,450 990,480 L700,660 L640,680 Z"/>
<path class="k" d="M840,195 C800,215 790,280 815,360 C845,440 920,500 990,480"/>
<g stroke="#111" stroke-width="3.4" fill="none"><path d="M570,322 L800,205 M610,388 L830,268 M655,452 L855,335 M700,515 L890,402 M730,578 L930,455 M745,632 L975,480"/></g>
<path class="k" d="M545,335 L775,205 M590,352 L820,232 M632,418 L840,300 M678,482 L870,368 M715,545 L905,428 M738,605 L950,468"/>
<path class="w" style="stroke-width:1.6" d="M480,372 L520,342 L545,380 L570,350 L590,400 L620,370 L635,420 L665,395 L675,450 L700,430 L705,480 L730,470 L735,540 L745,600 L740,650 L700,660 L640,680 L600,620 L560,560 L520,480 L490,420 Z"/>
<path class="k" d="M520,342 L530,400 L570,350 L580,420 L620,370 L628,440 L665,395 L668,465 L700,430 L700,495 M480,372 C560,420 660,560 700,660"/>
<path class="k" d="M640,450 L700,480 M650,470 L690,495"/>
<circle cx="810" cy="460" r="5" fill="#111"/>
</g>
<use href="#brg" transform="translate(755.5,394.5) scale(0.86)"/>
<path class="l" d="M685,555 L563,444 M629,582 L567,516 M756,504 L718.5,449 M785.8,491 L716,365 M815,470 L766,401 M850,457 L797,386"/>
<path class="d" d="M631,466 L676,440 M738,404.5 L746,400 M767,388 L775,384"/>

<!-- 31_fan.svg -->
<g transform="translate(190,480) scale(0.233333)">
<!-- fan of armature -->
<path class="w" style="stroke-width:1.7" d="M1270,95 L1330,85 L1400,120 L1460,230 L1480,360 L1470,440 L1420,480 L1340,520 L1270,525 Z"/>
<path class="k" d="M1330,85 L1345,150 M1365,100 L1385,175 M1400,125 L1425,215 M1430,170 L1455,270 M1455,240 L1470,330 M1470,320 L1465,400 M1340,520 L1345,470 M1400,490 L1410,440 M1450,455 L1440,395"/>
<path class="k" d="M1400,80 L1420,120 L1440,90 L1455,135 L1480,115 L1490,160 L1500,150 M1440,290 L1500,330 M1430,230 L1500,250"/>
<ellipse class="w" cx="1262" cy="310" rx="150" ry="218" transform="rotate(-8 1262 310)" style="stroke-width:1.8"/>
<ellipse class="k" cx="1268" cy="310" rx="100" ry="150" transform="rotate(-8 1268 310)"/>
<ellipse class="k" cx="1268" cy="310" rx="88" ry="135" transform="rotate(-8 1268 310)"/>
<ellipse class="w" cx="1262" cy="312" rx="48" ry="70" transform="rotate(-8 1262 312)"/>
<ellipse class="k" cx="1262" cy="312" rx="30" ry="44" transform="rotate(-8 1262 312)"/>
<path class="k" d="M1215,130 L1240,245 M1205,135 L1230,250 M1135,215 L1215,290 M1130,228 L1210,300 M1345,215 L1300,270 M1355,225 L1308,280 M1405,370 L1312,345 M1400,385 L1308,355 M1330,480 L1290,380 M1318,485 L1280,385 M1175,420 L1225,350 M1185,428 L1235,358"/>
<path class="w" d="M1140,345 L1230,312 L1245,350 L1160,395 C1120,395 1120,355 1140,345 Z"/>
<ellipse class="k" cx="1148" cy="370" rx="18" ry="26" transform="rotate(-15 1148 370)"/>
<path class="w" d="M1225,300 L1262,290 L1280,330 L1242,352 Z"/>
<!-- 29 baffle -->
<path class="w" style="stroke-width:1.7" d="M790,265 L880,238 L895,260 L1040,330 L1040,385 L1085,405 L1100,470 L1135,480 C1170,540 1165,610 1150,640 L1100,650 L1110,690 L1030,715 L1020,740 C960,740 880,700 810,600 L790,560 L735,520 L708,440 C700,380 715,330 740,310 L770,320 Z"/>
<path class="k" d="M770,320 L800,300 L790,265 M880,238 L888,275 L1030,345 L1040,330 M1030,345 L1030,400 L1085,405 M1050,430 L1060,490 L1100,470 M1060,490 L1120,500 M1100,650 L1045,680 L1030,715 M735,520 L760,500 L790,560 M740,310 L760,350 L770,320"/>
<ellipse class="w" cx="945" cy="500" rx="160" ry="215" transform="rotate(-25 945 500)" style="stroke-width:1.7"/>
<ellipse class="k" cx="955" cy="495" rx="140" ry="195" transform="rotate(-25 955 495)"/>
<ellipse class="w" cx="968" cy="482" rx="88" ry="125" transform="rotate(-20 968 482)" style="stroke-width:1.7"/>
<path class="k" d="M900,395 C880,470 920,560 1000,600"/>
<circle cx="1045" cy="620" r="5" fill="#111"/>
<!-- 30 bracket -->
<path class="w" style="stroke-width:1.6" d="M362,538 L365,600 L475,665 L478,680 L500,672 L520,740 L560,790 L620,805 L660,790 L700,795 L845,880 L860,888 L920,865 L915,785 L862,805 L705,715 L660,700 L640,660 L610,610 L560,578 L520,590 L500,605 Z"/>
<path class="w" d="M520,640 L545,625 L585,640 L640,700 L665,745 L650,765 L625,755 L600,770 L570,750 L540,700 Z"/>
<path class="k" d="M862,805 L860,888 M500,605 L505,630 L520,640 M478,680 L505,660 M365,600 L362,538"/>
<circle cx="890" cy="845" r="5" fill="#111"/>
<!-- 32 pin -->
<path d="M243,534 L297,578" stroke="#111" stroke-width="4" stroke-linecap="round" fill="none"/>
</g>
<use href="#brg" transform="translate(292.5,664)"/>
<path class="l" d="M217.5,655 L247.5,614 M480,667.5 L434,625 M422.5,700 L398,677 M372.5,727.5 L308,668"/>
<path class="d" d="M306,655 L376,615 L455,571 M281,670 L250,688 L427,790 L975,475 L1265,640 L1160,700"/>

<!-- 40_guard.svg -->
<defs>
<g id="dscr"><!-- dark machine screw: head at origin (left), thread to the right along +x -->
<path d="M3,0 L15.5,0" stroke="#1a1a1a" stroke-width="3.7" fill="none"/><path d="M6,-1.8 L6,1.8 M9,-1.8 L9,1.8 M12,-1.8 L12,1.8" stroke="#777" stroke-width="0.5" fill="none"/>
<ellipse cx="0" cy="0" rx="3.6" ry="4.6" fill="#111" stroke="#111" stroke-width="1"/>
<path d="M-1.5,-1.5 L1.5,1.5 M1.5,-1.5 L-1.5,1.5" stroke="#fff" stroke-width="0.8"/>
</g>
<g id="cring"><ellipse cx="0" cy="0" rx="5" ry="6.4" fill="#fff" stroke="#111" stroke-width="2.7" transform="rotate(-25)"/><ellipse cx="0" cy="0" rx="5" ry="6.4" fill="none" stroke="#fff" stroke-width="0.7" transform="rotate(-25)"/></g>
</defs>
<g transform="translate(700,560) scale(0.233333)">
<!-- 37 nozzle -->
<path class="w" style="stroke-width:1.7" d="M85,660 L420,525 L545,505 L580,520 L540,535 L525,580 L530,640 L495,660 L500,770 L440,790 L330,840 L300,830 L245,800 L145,835 L100,740 Z"/>
<path class="k" d="M85,660 C95,720 120,790 145,835 M300,620 C340,660 365,740 360,780 L330,840 M300,620 L380,570 L420,525 M380,570 C430,590 470,620 490,660 M420,525 C450,560 470,600 480,640 M360,780 C380,720 420,690 495,660 M490,540 C480,580 490,620 520,650 M545,505 C520,530 510,570 525,580 M380,700 L440,790 M245,800 L360,760"/>
<path class="k" d="M375,690 L470,645 L478,665 L440,685 M400,715 C430,740 470,760 500,770"/>
<circle class="k" cx="462" cy="636" r="7"/><circle class="k" cx="290" cy="812" r="7"/>
<!-- 36 washer -->
</g>
<g transform="translate(890,570) scale(0.1)">
<ellipse cx="400" cy="915" rx="82" ry="112" transform="rotate(-20 400 915)" fill="#fff" stroke="#111" stroke-width="1.6"/>
<ellipse cx="385" cy="918" rx="82" ry="112" transform="rotate(-20 385 918)" fill="#fff" stroke="#111" stroke-width="2.2"/>
<ellipse class="k" cx="378" cy="915" rx="30" ry="52" transform="rotate(-20 378 915)"/>
<path class="k" d="M365,880 C385,900 395,930 392,958"/>
<circle cx="340" cy="990" r="8" fill="#111"/>
<!-- 35 lever -->
<path class="w" style="stroke-width:1.8" d="M125,240 C135,220 148,210 160,205 L300,135 L330,140 L500,250 C520,262 535,275 540,290 L560,360 L600,470 L700,620 L760,720 C770,745 772,765 770,780 C765,805 755,825 740,840 L690,880 L640,905 C620,905 605,900 590,890 C572,878 560,866 550,850 C540,830 533,810 530,790 L520,720 L480,640 L430,560 L330,440 L200,340 L140,290 C128,272 122,255 125,240 Z"/>
<path class="k" d="M125,240 C150,235 165,250 175,275 L340,400 L450,520 L500,600 L545,700 L550,780 M160,205 L195,235 L470,380 L500,250 M470,380 C500,400 520,430 535,470 L600,590 L680,700"/>
<path d="M205,222 L300,165 M232,244 L328,186 M260,266 L356,208 M288,288 L384,230 M316,310 L412,252 M344,332 L440,274 M372,352 L468,296" stroke="#111" stroke-width="2.2" fill="none"/>
<path d="M150,290 L330,425 L432,548 L482,630 L520,712" fill="none" stroke="#111" stroke-width="2.4"/>
<path class="b" d="M270,350 L290,345 L295,370 L278,378 Z"/><path class="b" d="M420,470 L440,465 L445,490 L428,498 Z"/><path class="b" d="M495,585 L515,580 L520,605 L503,613 Z"/>
<path class="k" d="M650,730 L760,690 M690,880 L700,800"/>
<ellipse class="w" cx="610" cy="800" rx="72" ry="100" transform="rotate(-20 610 800)" style="stroke-width:1.9"/>
<ellipse cx="608" cy="802" rx="44" ry="66" transform="rotate(-20 608 802)" fill="#fff" stroke="#111" stroke-width="2.6"/>
<path class="k" d="M580,770 L590,840 M600,760 L612,850 M622,755 L632,845 M642,765 L648,830"/>
<!-- 34 nut -->
<path class="w" style="stroke-width:1.7" d="M855,570 L900,535 L1000,480 L1040,500 L1075,545 L1080,590 L1030,630 L940,690 L890,670 L858,630 Z"/>
<path class="k" d="M900,535 L950,560 L965,625 L940,690 M950,560 L1040,500 M965,625 L1075,575 M1000,480 L1030,540 L1040,620"/>
<path d="M1018,492 L1048,552 L1055,612" fill="none" stroke="#111" stroke-width="2.2"/>
<ellipse cx="900" cy="612" rx="45" ry="62" transform="rotate(-15 900 612)" fill="#fff" stroke="#111" stroke-width="2"/>
<ellipse cx="902" cy="614" rx="22" ry="34" transform="rotate(-15 902 614)" fill="#888" stroke="#111" stroke-width="1.6"/>
<path class="l" d="M770,690 L850,645 M1080,535 L1200,465 M460,880 L535,840"/>
</g>
<g transform="translate(700,560) scale(0.233333)">
<!-- 40 rivet -->
<path class="w" d="M1075,848 L1130,825 C1145,828 1150,845 1140,858 L1092,885 Z"/>
<ellipse class="w" cx="1062" cy="880" rx="30" ry="36" transform="rotate(-25 1062 880)" style="stroke-width:1.8"/>
<!-- 41 label -->
<path class="w" style="stroke-width:1.3" d="M740,955 C760,910 790,870 822,845 L965,925 C910,940 860,970 830,1010 Z"/>
<circle cx="855" cy="915" r="5" fill="#111"/>

</g>
<use href="#cring" transform="translate(1015,611.5) scale(1.05)"/>
<use href="#dscr" transform="translate(736,767) rotate(-25)"/>
<use href="#dscr" transform="translate(788,756) rotate(-25)"/>
<path class="l" d="M935,555 L935,592 M979,555 L979,622 M1014,551 L1014,600 M876,625 L924,669 M799,633 L799,682 M792,792 L744,770 M800,776 L794,760 M909,708 L957,754 M849,732 L899,773"/>
<circle cx="1014" cy="601" r="1.5" fill="#111"/>
<g transform="translate(940,600) scale(0.233333)">
<!-- 39 guard -->
</g>
<g transform="translate(950,640) scale(0.173333)">
<!-- back part -->
<path class="w" style="stroke-width:1.6" d="M840,225 L880,205 L990,210 L1040,250 L1070,310 L1150,370 L1230,480 L1270,580 L1285,610 L1240,640 L1290,700 L1300,780 L1240,760 L1100,520 L900,280 Z"/>
<path class="k" d="M880,205 L900,250 L940,235 L1000,240 L1040,250 M1000,240 L1060,330 L1150,370 M1060,330 L1140,420 L1210,530 L1245,620 M1270,580 L1210,530 M1240,640 L1250,720"/>
<!-- main silhouette -->
<path class="w" style="stroke-width:1.8" d="M35,540 C35,500 38,460 45,430 C52,395 62,360 75,330 C90,298 108,268 130,240 C155,212 180,190 210,170 C245,150 280,135 320,125 C360,112 400,104 440,100 C480,98 520,100 560,105 C595,110 630,117 660,125 C695,140 730,157 760,175 C800,200 840,230 880,260 C920,298 960,338 1000,380 C1035,422 1068,465 1100,510 C1128,552 1155,596 1180,640 C1205,686 1228,732 1250,780 L1310,900 L1380,1010 L1430,1080 C1440,1100 1445,1115 1445,1130 C1445,1150 1440,1162 1430,1170 L1290,1250 L1230,1250 L1170,1200 L1150,1140 L1080,1110 L1000,1040 L990,1010 L930,990 L760,880 L620,800 L390,650 L370,580 L340,520 C320,560 308,600 305,640 L300,680 L260,690 Z"/>
<!-- inner structure region -->
<path class="k" d="M340,520 C360,490 375,472 390,460 C410,445 430,435 450,430 L500,430 L560,470 L700,560 L800,640 L840,660"/>
<path class="k" d="M322,535 C345,500 365,478 385,470 C410,455 435,448 470,448 L540,480 L690,575 L790,655"/>
<path d="M300,680 L305,605 C315,565 325,545 340,520" fill="none" stroke="#111" stroke-width="1.4"/>
<path class="k" d="M285,690 L288,610 C298,565 310,540 325,515"/>
<path class="k" d="M370,560 L390,640 L480,680 L480,720 L620,790 M415,665 L465,665 L465,712 L418,712 Z M430,672 L455,705 M510,470 L520,650 L545,680 L560,660 L550,480 M530,490 L535,640 M590,580 L650,550 L690,600 L640,640 L700,680 L700,720 L620,790 M610,585 L610,640 M650,550 L660,600 M690,600 L740,620 L800,640 M700,720 L740,760 M600,760 L640,700"/>
<circle class="k" cx="712" cy="728" r="9"/><circle class="k" cx="715" cy="760" r="9"/>
<!-- hub -->
<path class="w" style="stroke-width:1.6" d="M745,705 C770,660 810,650 850,680 C900,720 950,810 965,890 C975,940 965,975 945,985 C900,990 830,950 790,890 C750,830 730,750 745,705 Z"/>
<path class="k" d="M838,690 C880,730 925,810 940,885 C948,930 940,955 925,965 M760,760 C770,830 810,900 870,945"/>
<path class="k" d="M835,700 C820,740 835,800 870,850 C900,890 935,910 950,900"/>
<circle class="k" cx="948" cy="985" r="10"/>
<!-- windows -->
<path class="w" style="stroke-width:1.5" d="M70,360 C80,320 95,290 110,260 C135,230 160,212 190,200 L310,195 L335,215 L330,265 L240,270 C210,285 188,305 170,330 C155,365 150,400 150,440 Z"/>
<path class="k" d="M100,330 C120,290 148,260 180,240 L300,220 M120,380 C135,330 165,295 200,275"/>
<path class="w" style="stroke-width:1.5" d="M180,460 C190,425 205,395 220,370 C240,345 258,330 280,320 L470,410 L440,420 C415,425 390,432 370,440 C350,455 335,470 320,490 C300,515 288,540 280,560 Z"/>
<path class="k" d="M35,540 L70,360 M150,440 L180,460 M330,265 L345,240 M335,215 L330,150"/>
<circle class="k" cx="120" cy="487" r="8"/><circle class="k" cx="350" cy="258" r="8"/>
<!-- ridges -->
<path class="k" d="M330,150 C400,132 480,125 560,130 C630,145 700,170 760,200 C810,232 858,265 900,300 C950,348 998,398 1040,450 C1085,512 1125,575 1160,640 C1195,700 1225,760 1250,820 C1275,880 1295,940 1310,1000 L1320,1080"/>
<path d="M440,115 C500,112 560,118 620,132 C690,155 750,185 800,220 C860,262 910,308 960,360 C1010,415 1055,472 1095,535 C1135,595 1170,660 1200,720 C1235,790 1265,870 1290,950 L1315,1090" fill="none" stroke="#111" stroke-width="2.2"/>
<path class="k" d="M650,125 L665,95 L740,120 L750,165 M1060,540 C1110,610 1155,690 1195,770 C1230,845 1255,920 1275,990"/>
<!-- swoosh -->
<path class="b" d="M468,318 L500,268 C540,278 575,290 610,307 C665,337 715,372 760,412 C790,440 815,467 830,497 L826,525 C808,495 784,468 754,440 C710,400 660,366 606,338 C570,320 535,306 508,298 Z" style="stroke-width:0.6"/>
<path class="k" d="M330,150 L345,240 L400,230 L440,290 L465,320 M400,230 C430,232 470,245 500,265"/>
<g transform="translate(512,362) rotate(33)" opacity="0.999"><text x="0" y="0" font-family="Liberation Sans" font-weight="bold" font-size="86" fill="#111" stroke="#111" stroke-width="6" textLength="300" lengthAdjust="spacingAndGlyphs">ЗУБР</text></g>
<!-- lower right details -->
<path class="k" d="M990,880 L1020,870 L1050,920 L1030,940 L1050,1000 L1040,1030 L1000,990 M840,660 C900,700 960,790 990,880 M1000,1040 C1010,1000 1020,985 1040,1030"/>
<path class="k" d="M1080,1110 C1090,1060 1110,1020 1150,1010 L1290,1080 M1150,1140 C1160,1100 1190,1090 1230,1110 M1310,900 L1180,1000 M1170,1200 L1290,1150 L1430,1170"/>
<circle class="w" cx="1212" cy="1200" r="30" style="stroke-width:1.7"/>
<path class="k" d="M1160,1180 C1160,1150 1190,1135 1225,1142 C1265,1155 1280,1200 1262,1240"/>
</g>
<g transform="translate(940,600) scale(0.233333)">
<!-- 42 bushing -->
<ellipse cx="408" cy="925" rx="25" ry="36" transform="rotate(-15 408 925)" fill="#fff" stroke="#111" stroke-width="1.7"/>
<path d="M366,906 L400,890 L418,960 L384,976 Z" fill="#fff" stroke="none"/>
<path class="k" d="M366,906 L399,890 M384,976 L417,960"/>
<ellipse cx="375" cy="940" rx="25" ry="36" transform="rotate(-15 375 940)" fill="#fff" stroke="#111" stroke-width="2.4"/>
<ellipse class="k" cx="375" cy="940" rx="13" ry="20" transform="rotate(-15 375 940)"/>
<circle cx="400" cy="903" r="5" fill="#111"/>
<!-- 60 spacer -->
<ellipse cx="668" cy="1040" rx="32" ry="50" transform="rotate(-20 668 1040)" fill="#fff" stroke="#111" stroke-width="1.7"/>
<path d="M615,993 L651,993 L685,1087 L649,1087 Z" fill="#fff" stroke="none"/>
<path class="k" d="M615,993 L651,992 M649,1088 L685,1087"/>
<ellipse class="w" cx="632" cy="1040" rx="32" ry="50" transform="rotate(-20 632 1040)" style="stroke-width:1.7"/>
<circle class="k" cx="630" cy="1042" r="6"/><circle cx="680" cy="1052" r="5" fill="#111"/>
<!-- 59 pin -->
<path class="w" d="M742,1165 L880,1088 C895,1088 898,1105 890,1110 L752,1188 C735,1190 732,1172 742,1165 Z"/>
<ellipse class="k" cx="747" cy="1177" rx="8" ry="12"/>
<circle cx="878" cy="1110" r="4" fill="#111"/>
<rect x="350" y="655" width="50" height="45" class="k" transform="rotate(-8 375 677)"/>
</g>
<use href="#cring" transform="translate(996.5,836)"/>
<use href="#dscr" transform="translate(1059,859) rotate(-25)"/>
<path class="l" d="M1119,643 L1082,668 M1003,773 L1027,756 M1003,790 L1032,812 M968,810 L990,832 M1165,880 L1146,861 M1133,883 L1099,847 M1078,883 L1066,860"/>
<path class="d" d="M1040,810 L1094,780 M1002,833 L1022,822 M940,868 L989,840 M1033,874 L1057,862 M1073,853 L1080,850 M1101,836 L1124,824 M1018,757 L1032,749"/>

<!-- 50_gear.svg -->
<defs>
<g id="xscr"><!-- small cross-head screw, head at origin, body to upper-right -->
<path d="M2,-1 L15,-6 L16.5,-2.5 L3.5,3 Z" fill="#fff" stroke="#111" stroke-width="1.2"/>
<ellipse cx="0" cy="0" rx="3.8" ry="4.8" fill="#fff" stroke="#111" stroke-width="1.6"/>
<path d="M-2.4,-2.6 L2.4,2.6 M2.4,-2.6 L-2.4,2.6" stroke="#111" stroke-width="1"/>
</g>
</defs>
<g transform="translate(680,800) scale(0.233333)">
<!-- gear 44 -->
<ellipse cx="1076" cy="326" rx="92" ry="118" transform="rotate(-12 1076 326)" fill="#fff" stroke="#111" stroke-width="1.5"/>
<ellipse cx="1076" cy="326" rx="88" ry="114" transform="rotate(-12 1076 326)" fill="none" stroke="#111" stroke-width="3" stroke-dasharray="1.5 1.5"/>
<path d="M1020,222 L1056,208 M1050,218 L1086,208 M1080,228 L1114,218 M1104,248 L1138,240 M1122,276 L1156,268 M1134,306 L1168,298 M1140,338 L1172,330 M1140,370 L1172,360 M1134,400 L1164,388 M1120,428 L1150,414 M1098,450 L1128,434 M1070,462 L1100,448" stroke="#111" stroke-width="2.6" fill="none"/>
<ellipse cx="1040" cy="340" rx="92" ry="118" transform="rotate(-12 1040 340)" fill="#fff" stroke="#111" stroke-width="1.6"/>
<ellipse cx="1040" cy="340" rx="88" ry="114" transform="rotate(-12 1040 340)" fill="none" stroke="#111" stroke-width="2.6" stroke-dasharray="1.5 1.5"/>
<ellipse class="w" cx="1040" cy="340" rx="80" ry="105" transform="rotate(-12 1040 340)" style="stroke-width:1.2"/>
<path class="w" d="M1005,345 C1005,325 1025,315 1045,325 L1062,335 L1062,370 L1045,372 C1025,378 1005,365 1005,345 Z"/>
<circle cx="1045" cy="305" r="5" fill="#111"/>
<!-- bushing 45 -->
<ellipse cx="915" cy="415" rx="36" ry="50" transform="rotate(-15 915 415)" fill="#fff" stroke="#111" stroke-width="1.7"/>
<path d="M868,380 L904,367 L930,463 L894,477 Z" fill="#fff" stroke="none"/>
<path class="k" d="M868,380 L903,367 M894,477 L929,463"/>
<ellipse cx="880" cy="428" rx="36" ry="50" transform="rotate(-15 880 428)" fill="#fff" stroke="#111" stroke-width="2.2"/>
<ellipse class="k" cx="882" cy="430" rx="26" ry="38" transform="rotate(-15 882 430)"/>
<circle cx="892" cy="382" r="5" fill="#111"/>
<!-- 46 housing -->
<path class="w" style="stroke-width:1.8" d="M590,470 L640,425 L680,380 L720,372 L760,395 L790,450 L810,520 L830,640 L815,670 L780,690 L745,650 L690,650 L640,610 L600,540 Z"/>
<path class="k" d="M720,372 L700,400 L650,440 M760,395 L745,420 M790,450 L770,470 L790,640 L815,670 M790,640 L750,660"/>
<ellipse class="w" cx="680" cy="545" rx="80" ry="112" transform="rotate(-15 680 545)" style="stroke-width:2.4"/>
<ellipse class="k" cx="684" cy="548" rx="64" ry="94" transform="rotate(-15 684 548)" style="stroke-width:2.2"/>
<ellipse class="k" cx="690" cy="552" rx="50" ry="76" transform="rotate(-15 690 552)"/>
<path class="t" d="M640,520 L735,565 M650,560 L740,600 M660,490 L730,525"/>
<circle class="k" cx="600" cy="490" r="8"/><circle class="k" cx="765" cy="465" r="8"/><circle class="k" cx="778" cy="655" r="8"/><circle class="k" cx="735" cy="405" r="7"/><circle class="k" cx="690" cy="640" r="7"/>
<path class="l" d="M650,320 L725,295 L740,360 M545,440 L570,435 L580,495"/>
<!-- key 48 -->
<path class="w" d="M385,605 L420,597 L430,610 L425,628 L392,634 L382,620 Z"/><path class="k" d="M385,618 L428,610"/>
<!-- shaft 49 -->
<path class="w" d="M455,655 L498,645 C512,650 512,685 500,692 L460,700 Z"/>
<path class="w" style="stroke-width:1.7" d="M350,700 L445,668 C470,672 475,715 455,725 L365,765 Z"/>
<path class="h" d="M440,670 C425,685 428,720 445,730"/>
<path class="k" d="M425,715 L455,705 L455,718 L430,728 Z"/>
<path class="w" style="stroke-width:1.7" d="M335,705 L350,700 C365,715 370,750 362,770 L345,775 Z"/>
<path class="h" d="M340,705 C352,725 355,755 348,775"/>
<path class="w" style="stroke-width:1.8" d="M275,742 L315,730 L340,745 L345,790 L330,805 L290,815 C262,805 258,760 275,742 Z"/>
<ellipse class="k" cx="288" cy="778" rx="24" ry="36" transform="rotate(-10 288 778)"/><ellipse class="k" cx="286" cy="780" rx="8" ry="11"/>
<circle cx="355" cy="706" r="5" fill="#111"/>
<!-- 73, 72 -->
<path class="w" d="M860,722 L885,716 L908,735 L905,755 L880,765 C862,760 852,738 860,722 Z"/><ellipse class="k" cx="868" cy="732" rx="9" ry="13"/>
<ellipse cx="945" cy="782" rx="12" ry="15" fill="#fff" stroke="#111" stroke-width="3"/>
<!-- 71 bracket -->
<path class="w" style="stroke-width:1.7" d="M1110,740 L1225,790 C1260,700 1295,560 1310,425 L1375,440 L1400,470 C1370,560 1340,700 1330,800 L1330,935 L1290,930 L1130,870 L1020,880 C990,880 975,850 985,825 C995,808 1005,800 1020,795 Z"/>
<path class="k" d="M1110,740 L1130,765 L1130,870 M1130,765 L1225,790 M1375,440 C1350,560 1310,700 1300,800 L1290,930 M1310,425 L1330,455"/>
<path class="k" d="M1322,460 L1342,466 C1320,560 1295,690 1290,780 L1287,890 L1266,884 L1268,780 C1270,690 1295,560 1322,460 Z"/>
<ellipse class="k" cx="1025" cy="836" rx="11" ry="14"/>
<circle cx="1185" cy="815" r="5" fill="#111"/>
</g>
<use href="#xscr" transform="translate(821,884.5) rotate(-5)"/>
<use href="#xscr" transform="translate(795,908) rotate(-5)"/>
<use href="#xscr" transform="translate(843.5,964.5) rotate(-5)"/>
<g transform="translate(809.5,947) scale(1.42)"><use href="#brg"/></g>
<path class="l" d="M900,848 L923,870 M873,862 L887,888 M829,845 L852,896 M794,858 L824,881 M796,858 L801,901 M797,858 L850,958 M760,878 L802,927 M735,892 L774,940 M711,907 L762,964 M815,1024 L883,974 M855,1024 L899,984 M895,1038 L956,990"/>
<path class="d" d="M680,1019 L742,985 M867,911 L877,905 M900,893 L913,886 M891,975 L897,980 M905,986 L910,988 M917,1007 L917,1059"/>

<!-- 51_lguard.svg -->
<g transform="translate(480,880) scale(0.213333)">
<!-- spring 50 -->
<path d="M660,138 L1050,382" stroke="#222" stroke-width="5.2" stroke-linecap="round" fill="none"/>
<path class="k" d="M1050,380 C1075,385 1095,400 1085,410 C1075,415 1060,405 1050,395"/>
<!-- lower guard 51 -->
<path class="w" style="stroke-width:1.8" d="M620,290 L650,265 L700,270 L780,320 L830,370 L870,430 L940,470 L1010,450 L1030,420 L1055,430 L1065,460 L1110,490 L1160,560 L1175,640 L1250,720 L1330,850 L1390,960 L1420,1060 L1410,1130 L1380,1155 L1340,1100 L1290,1078 C1240,1110 1150,1118 1080,1105 C1000,1085 900,1020 830,940 C760,860 680,700 640,600 C615,520 600,420 605,350 Z"/>
<path class="k" d="M630,300 L655,280 L695,285 L770,330 L820,380 L860,440 L940,485 L1010,465 M640,295 C640,340 660,370 700,390 M695,285 L690,330 L720,370"/>
<path class="k" d="M650,400 C640,480 680,620 740,730 C800,840 900,950 1000,990 C1040,1000 1075,995 1085,985"/>
<path class="k" d="M690,500 C700,600 760,720 840,820 C900,900 980,970 1060,975"/>
<path class="k" d="M690,500 C700,470 720,455 735,500 M1085,985 C1100,920 1090,840 1100,800 C1120,770 1160,790 1200,830 L1290,960 L1340,1000 L1390,960 M1290,1078 C1270,1040 1270,1000 1290,960 M1340,1000 L1340,1100 M1175,640 L1150,625 L1160,650 L1240,740 L1320,870 L1380,975"/>
<path class="k" d="M1100,830 L1210,920 L1120,990 Z M1120,855 L1185,915 L1128,962 Z"/>
<path class="k" d="M1140,1030 L1200,1010 L1195,995 L1240,1015 L1215,1055 L1210,1040 L1150,1065 Z"/>
<path class="k" d="M615,390 L640,400 L640,460 L618,450 M640,575 L665,590 L675,650 L655,640 M700,760 L735,760 L760,830 L740,830 M830,940 L850,920 L900,960 L890,985 M985,1050 L1000,1030 L1050,1050 L1045,1075"/>
<ellipse class="w" cx="1052" cy="600" rx="118" ry="145" transform="rotate(-12 1052 600)" style="stroke-width:1.7"/>
<ellipse class="k" cx="1062" cy="596" rx="80" ry="108" transform="rotate(-12 1062 596)"/>
<path class="k" d="M1000,520 C990,600 1030,680 1100,700"/>
<circle class="w" cx="1035" cy="437" r="13"/><circle class="k" cx="1035" cy="437" r="6"/>
<ellipse class="w" cx="735" cy="460" rx="42" ry="48" style="stroke-width:2.2"/><ellipse class="k" cx="722" cy="462" rx="20" ry="24"/><ellipse class="k" cx="718" cy="464" rx="8" ry="10"/>
<path class="k" d="M690,440 L720,455 M700,485 L722,470"/>
<circle cx="675" cy="395" r="5" fill="#111"/>
<!-- lever 52 -->
<path class="w" style="stroke-width:1.8" d="M322,425 L345,385 L420,405 L440,460 L520,500 L570,520 L595,575 L580,615 L540,630 L490,610 L460,560 L440,520 L380,490 L335,450 Z"/>
<path d="M335,420 L352,392 L412,410 L395,440 Z" fill="#fff" stroke="#111" stroke-width="1.3"/>
<path class="h" d="M345,405 L372,430 M358,398 L385,425 M372,395 L398,420 M388,398 L410,418"/>
<path class="k" d="M395,440 L440,460 M335,450 L345,430 L395,455 L450,500 L470,560 M545,500 L580,490 L585,510"/>
<ellipse class="w" cx="525" cy="575" rx="38" ry="44" transform="rotate(-20 525 575)" style="stroke-width:1.8"/><ellipse class="k" cx="522" cy="578" rx="20" ry="25" transform="rotate(-20 522 578)"/>
<ellipse class="k" cx="468" cy="525" rx="14" ry="17"/>
<!-- 53 flange -->
<ellipse class="w" cx="595" cy="850" rx="98" ry="128" transform="rotate(-15 595 850)" style="stroke-width:1.7"/>
<ellipse class="w" cx="595" cy="850" rx="50" ry="68" transform="rotate(-15 595 850)" style="stroke-width:1.7"/>
<ellipse class="k" cx="522" cy="792" rx="9" ry="12"/><ellipse class="k" cx="648" cy="825" rx="9" ry="12"/><ellipse class="k" cx="608" cy="945" rx="9" ry="12"/>
<circle cx="515" cy="847" r="5" fill="#111"/>
<!-- 54 flange -->
<ellipse cx="218" cy="1064" rx="78" ry="86" transform="rotate(-30 218 1052)" fill="#fff" stroke="#111" stroke-width="2.4"/>
<ellipse class="k" cx="215" cy="1067" rx="68" ry="76" transform="rotate(-30 215 1055)"/>
<ellipse cx="215" cy="1080" rx="44" ry="50" transform="rotate(-30 215 1068)" fill="#fff" stroke="#111" stroke-width="2.6"/>
<ellipse class="w" cx="212" cy="1084" rx="30" ry="36" transform="rotate(-30 212 1072)"/>
<path class="k" d="M190,1072 C195,1097 215,1112 235,1110"/>
</g>
<use href="#dscr" transform="translate(563,1015.5) rotate(-22)"/>
<use href="#xscr" transform="translate(539,1078) rotate(-4) scale(0.95)"/>
<use href="#xscr" transform="translate(565,1084) rotate(-4) scale(0.95)"/>
<use href="#xscr" transform="translate(558,1109) rotate(-4) scale(0.95)"/>
<path class="l" d="M534.5,909 L569.5,966.5 M592,909 L624,964 M665.5,910 L664.5,931 M530,970 L563,1014 M520.5,998.5 L590,1060 M493,1018.5 L536.5,1076 M493,1018.5 L565,1081.5 M542,1081 L562,1107 M462,1037 L519,1097"/>
<path class="d" d="M499,1121 L511,1114.5 M542,1098.5 L561,1088 M578,1079.5 L702,1010"/>

<!-- 52_blade.svg -->
<g transform="translate(220,1020) scale(0.233333)">
<!-- blade 55 -->
<path class="w" style="stroke-width:1.5" transform="translate(-12,7)" d="M1204,443 L1182,468 Q1186,490 1204,500 L1238,531 L1256,552 L1227,565 Q1226,585 1243,600 L1273,639 L1289,663 L1254,663 Q1248,679 1263,698 L1287,742 L1299,768 L1261,755 Q1252,767 1264,788 L1280,834 L1287,860 L1248,835 Q1235,842 1244,864 L1251,909 L1253,934 L1216,898 Q1201,899 1205,921 L1203,961 L1200,983 L1167,939 Q1150,935 1150,954 L1139,988 L1130,1004 L1105,956 Q1087,946 1082,962 L1063,986 L1050,997 L1033,947 Q1016,932 1007,944 L981,957 L964,962 L956,913 Q942,895 929,901 L897,903 L878,900 L881,857 Q869,835 853,836 L819,826 L798,817 L811,781 Q803,759 786,754 L750,732 L730,717 L752,692 Q748,670 730,660 L696,629 L678,608 L707,595 Q708,575 691,560 L661,521 L645,497 L680,497 Q686,481 671,462 L647,418 L635,392 L673,405 Q682,393 670,372 L654,326 L647,300 L686,325 Q699,318 690,296 L683,251 L681,226 L718,262 Q733,261 729,239 L731,199 L734,177 L767,221 Q784,225 784,206 L795,172 L804,156 L829,204 Q847,214 852,198 L871,174 L884,163 L901,213 Q918,228 927,216 L953,203 L970,198 L978,247 Q992,265 1005,259 L1037,257 L1056,260 L1053,303 Q1065,325 1081,324 L1115,334 L1136,343 L1123,379 Q1131,401 1148,406 L1184,428 L1204,443 Z"/>
<path class="w" style="stroke-width:1.6" d="M1204,443 L1182,468 Q1186,490 1204,500 L1238,531 L1256,552 L1227,565 Q1226,585 1243,600 L1273,639 L1289,663 L1254,663 Q1248,679 1263,698 L1287,742 L1299,768 L1261,755 Q1252,767 1264,788 L1280,834 L1287,860 L1248,835 Q1235,842 1244,864 L1251,909 L1253,934 L1216,898 Q1201,899 1205,921 L1203,961 L1200,983 L1167,939 Q1150,935 1150,954 L1139,988 L1130,1004 L1105,956 Q1087,946 1082,962 L1063,986 L1050,997 L1033,947 Q1016,932 1007,944 L981,957 L964,962 L956,913 Q942,895 929,901 L897,903 L878,900 L881,857 Q869,835 853,836 L819,826 L798,817 L811,781 Q803,759 786,754 L750,732 L730,717 L752,692 Q748,670 730,660 L696,629 L678,608 L707,595 Q708,575 691,560 L661,521 L645,497 L680,497 Q686,481 671,462 L647,418 L635,392 L673,405 Q682,393 670,372 L654,326 L647,300 L686,325 Q699,318 690,296 L683,251 L681,226 L718,262 Q733,261 729,239 L731,199 L734,177 L767,221 Q784,225 784,206 L795,172 L804,156 L829,204 Q847,214 852,198 L871,174 L884,163 L901,213 Q918,228 927,216 L953,203 L970,198 L978,247 Q992,265 1005,259 L1037,257 L1056,260 L1053,303 Q1065,325 1081,324 L1115,334 L1136,343 L1123,379 Q1131,401 1148,406 L1184,428 L1204,443 Z"/>
<ellipse class="w" cx="965" cy="580" rx="24" ry="42" transform="rotate(-30 965 580)"/>
<path class="t" d="M940,560 L990,600"/>
<g opacity="0.999" font-family="Liberation Sans" font-weight="bold" fill="#111" stroke="#111" stroke-width="1.5">
<text transform="translate(803,385) rotate(31)" font-size="50" textLength="350" lengthAdjust="spacingAndGlyphs">Ø165xØ16x24T</text>
<text transform="translate(818,628) rotate(32)" font-size="52" textLength="325" lengthAdjust="spacingAndGlyphs">MAX.5000min</text>
</g>
<circle cx="770" cy="660" r="5" fill="#111"/>
<!-- 56 flange -->
<ellipse cx="668" cy="762" rx="70" ry="98" transform="rotate(-30 668 762)" fill="#fff" stroke="#111" stroke-width="1.6"/>
<ellipse cx="660" cy="766" rx="66" ry="94" transform="rotate(-30 660 766)" fill="#fff" stroke="#111" stroke-width="2.4"/>
<ellipse class="k" cx="660" cy="766" rx="52" ry="76" transform="rotate(-30 660 766)"/>
<ellipse cx="658" cy="768" rx="40" ry="58" transform="rotate(-30 658 768)" fill="#fff" stroke="#111" stroke-width="2.2"/>
<path class="k" d="M625,735 L690,760 L665,800 Z"/>
<circle cx="625" cy="735" r="5" fill="#111"/>
<path class="w" d="M722,690 L745,680 L750,700 L728,712 Z"/>
<!-- 57 washer -->
<ellipse cx="520" cy="832" rx="34" ry="48" transform="rotate(-30 520 832)" fill="#fff" stroke="#111" stroke-width="2.2"/>
<ellipse class="k" cx="515" cy="832" rx="13" ry="19" transform="rotate(-30 515 832)"/>
<circle cx="500" cy="820" r="5" fill="#111"/>
<!-- 58 bolt -->
<path d="M355,935 L398,912" stroke="#111" stroke-width="9.5" stroke-linecap="round" fill="none"/>
<path class="w" style="stroke-width:1.9" d="M285,915 L335,905 C360,915 365,960 350,975 L300,1000 C270,990 262,935 285,915 Z"/>
<ellipse class="k" cx="298" cy="958" rx="24" ry="40" transform="rotate(-12 298 958)"/>
<path class="k" d="M285,945 L300,930 L312,950 L310,975 L295,985 L285,968 Z"/>
<circle cx="310" cy="925" r="5" fill="#111"/>
</g>
<path class="l" d="M350.5,1101.5 L399.5,1174 M318,1118 L366,1191.5 M286.5,1134.5 L336.5,1211.5 M244.5,1160 L292,1236"/>
<path class="d" d="M314.5,1230 L334.5,1219.5 M349.5,1210 L360,1204.5 M391.5,1181 L441.5,1154.5 M497.5,1123 L530,1106"/>

<!-- 60_base.svg -->
<g transform="translate(850,990) scale(0.3)">
<!-- 74 rip fence part (right end) drawn in 61 -->
<!-- base plate 69 -->
<path class="w" style="stroke-width:1.7" d="M40,310 C42,295 50,290 60,285 L340,130 L570,130 L1370,590 L1370,610 L940,840 C930,845 922,835 920,825 L40,335 Z"/>
<path class="k" d="M40,318 L925,812 L1365,592 M925,812 L935,838"/>
<path class="k" d="M125,320 L295,225 L310,225 L1000,620 L870,695 L850,735 L820,740 L125,335 Z"/>
<path class="k" d="M160,325 L312,242 L960,612 L852,680 L832,720 L150,340 M832,720 L820,740 M150,340 L125,335 M160,325 L125,320"/>
<path class="k" d="M340,130 L400,165 M1060,770 L1075,782 L1095,747 L1140,742"/>
<path d="M935,812 L1060,752 M1140,735 L1365,598" stroke="#111" stroke-width="2.4" fill="none"/>
<path d="M140,371 l20.9,-12.0 M156,380 l13.1,-7.5 M172,389 l13.1,-7.5 M189,399 l13.1,-7.5 M205,408 l20.9,-12.0 M221,417 l13.1,-7.5 M237,426 l13.1,-7.5 M253,435 l13.1,-7.5 M269,444 l20.9,-12.0 M286,454 l13.1,-7.5 M302,463 l13.1,-7.5 M318,472 l13.1,-7.5 M334,481 l20.9,-12.0 M350,490 l13.1,-7.5 M366,499 l13.1,-7.5 M383,509 l13.1,-7.5 M399,518 l20.9,-12.0 M415,527 l13.1,-7.5 M431,536 l13.1,-7.5 M447,545 l13.1,-7.5 M464,554 l20.9,-12.0 M480,564 l13.1,-7.5 M496,573 l13.1,-7.5 M512,582 l13.1,-7.5 M528,591 l20.9,-12.0 M544,600 l13.1,-7.5 M561,610 l13.1,-7.5 M577,619 l13.1,-7.5 M593,628 l20.9,-12.0 M609,637 l13.1,-7.5 M625,646 l13.1,-7.5 M641,655 l13.1,-7.5 M658,665 l20.9,-12.0 M674,674 l13.1,-7.5 M690,683 l13.1,-7.5 M706,692 l13.1,-7.5 M722,701 l20.9,-12.0 M738,710 l13.1,-7.5 M755,720 l13.1,-7.5 M771,729 l13.1,-7.5 M787,738 l20.9,-12.0" stroke="#111" stroke-width="1.7" fill="none"/>
<path class="t" d="M140,371 L787,738"/>
<path d="M287,417 L822,721" stroke="#111" stroke-width="2.4" fill="none"/>
<ellipse class="w" cx="555" cy="225" rx="35" ry="22"/><path class="k" d="M525,228 C530,245 580,245 588,228"/>
<path class="w" d="M180,282 L212,208 C220,196 235,198 240,206 L275,240 L262,252 L235,232 L195,292 Z"/>
<circle class="k" cx="225" cy="234" r="8"/>
<g fill="#fff" stroke="#111" stroke-width="1.8">
<ellipse cx="1225" cy="547" rx="26" ry="9" transform="rotate(-25 1225 547)"/><ellipse cx="1282" cy="580" rx="26" ry="9" transform="rotate(-25 1282 580)"/>
<ellipse cx="885" cy="745" rx="26" ry="9" transform="rotate(-25 885 745)"/><ellipse cx="940" cy="776" rx="26" ry="9" transform="rotate(-25 940 776)"/>
<ellipse cx="1080" cy="550" rx="11" ry="7"/><ellipse cx="1135" cy="580" rx="11" ry="7"/><ellipse cx="930" cy="700" rx="11" ry="7"/><ellipse cx="1135" cy="685" rx="11" ry="7"/>
</g>
<path class="h" d="M1020,745 L1035,740 M1050,728 L1080,716"/>
<circle cx="1210" cy="620" r="5" fill="#111"/>
<!-- rivets 70 -->
<g id="rv"><path class="w" d="M1127,782 C1127,774 1153,774 1153,782 L1153,815 L1127,815 Z"/><ellipse class="w" cx="1140" cy="822" rx="24" ry="11" style="stroke-width:1.8"/><path class="k" d="M1127,814 C1130,822 1150,822 1153,814"/></g>
<use href="#rv" transform="translate(-205,115)"/><use href="#rv" transform="translate(-5,100)"/>
<circle cx="1140" cy="858" r="4.5" fill="#111"/><circle cx="935" cy="925" r="4.5" fill="#111"/>
</g>
<path class="l" d="M1088.5,1247.4 L1192,1247.4 M1088.5,1250 L1129,1267 M1257,1209 L1214,1177"/>
<path class="d" d="M1174,1113 L1174,1154 M1130.5,1230 L1130.5,1265 M1192,1212 L1192,1262"/>

<!-- 61_bevel.svg -->
<g transform="translate(1030,900) scale(0.206667)">
<!-- 62 -->
<path class="w" style="stroke-width:1.7" d="M130,390 L215,325 L240,325 L300,370 L400,320 L410,240 L485,150 L510,170 L525,235 L560,235 L575,260 L570,340 L215,525 L180,530 L145,510 L130,470 Z"/>
<path class="k" d="M130,390 L190,410 L215,440 L215,525 M190,410 L250,365 L240,325 M250,365 L300,395 L300,370 M300,395 L420,335 L425,250 L490,170 M215,440 L150,470 M520,235 L515,310 L570,290"/>
<path class="k" d="M457,232 C470,215 480,208 490,205 C500,250 502,290 500,330 L470,346 C472,300 468,265 457,232 Z"/>
<ellipse class="k" cx="175" cy="452" rx="17" ry="20"/><ellipse class="k" cx="175" cy="452" rx="8" ry="10"/>
<ellipse class="k" cx="270" cy="386" rx="13" ry="11"/>
<ellipse class="k" cx="188" cy="498" rx="8" ry="9"/>
<!-- 63 bolt -->
<path class="w" d="M690,365 L765,395 L768,425 L700,400 Z"/>
<path class="w" style="stroke-width:1.8" d="M655,350 L680,332 L700,345 L705,380 L690,400 L665,390 Z"/>
<ellipse class="k" cx="766" cy="410" rx="6" ry="15"/>
<circle cx="735" cy="382" r="5" fill="#111"/>
<!-- 64 quadrant bracket -->
<path class="w" style="stroke-width:1.8" d="M560,820 L590,730 L640,700 L690,710 L720,690 L770,660 L775,400 C780,350 810,318 840,315 C880,318 930,350 960,380 C990,430 1010,500 1015,560 L1015,650 L900,710 L855,690 L950,770 L955,810 L920,840 L915,880 L865,830 L800,790 L770,790 L600,880 L565,860 Z"/>
<path class="k" d="M590,730 L610,760 L600,880 M610,760 L700,740 L780,700 L790,410 C795,370 815,345 845,335 M780,700 L800,790 M770,660 L780,700 M855,690 L800,720 L800,790 M900,710 L1010,640 M820,730 L930,790 L955,810 M930,790 L915,880"/>
<path d="M855,415 C870,395 885,390 895,392 C940,430 965,480 975,525 L948,548 C935,490 905,450 860,432 Z" fill="#fff" stroke="#111" stroke-width="2.2"/>
<path d="M905,362 L1012,585" stroke="#111" stroke-width="5.5" stroke-dasharray="1.6 2.6" fill="none"/>
<path class="k" d="M895,365 C950,420 990,500 1005,590"/>
<ellipse class="w" cx="672" cy="782" rx="11" ry="14"/>
<ellipse cx="880" cy="735" rx="13" ry="11" fill="#111"/>
<!-- 68 pin -->
<path class="w" d="M770,818 L850,862 C865,870 860,895 845,895 L762,850 Z"/>
<ellipse class="w" cx="767" cy="834" rx="12" ry="18" transform="rotate(-15 767 834)"/>
<!-- 66 -->
<path d="M1090,805 L1090,848" stroke="#111" stroke-width="5.5" fill="none"/>
<path class="w" style="stroke-width:1.8" d="M1042,672 L1080,662 L1130,690 L1140,720 L1135,775 L1095,805 L1060,790 L1045,745 Z"/>
<path class="k" d="M1045,685 L1095,715 L1140,720 M1095,715 L1095,805"/>
<ellipse class="k" cx="1090" cy="688" rx="18" ry="10"/>
<path class="h" d="M1048,690 L1052,745"/>
<circle cx="1125" cy="765" r="5" fill="#111"/>
<!-- 67 spring -->
<path d="M1088,893 L1088,958" stroke="#111" stroke-width="8.5" stroke-dasharray="2.2 0.5" fill="none"/>
<!-- 36 washer -->
<ellipse cx="1080" cy="597" rx="38" ry="52" transform="rotate(-20 1080 597)" fill="#fff" stroke="#111" stroke-width="2.4"/>
<ellipse class="k" cx="1078" cy="598" rx="15" ry="21" transform="rotate(-20 1078 598)"/>
<!-- 35 lever -->
<path class="w" style="stroke-width:1.8" d="M1215,420 L1270,320 L1300,315 L1365,365 L1370,400 L1300,520 L1250,560 L1240,600 L1255,660 L1240,700 L1200,715 L1160,690 L1140,640 L1160,560 L1185,490 Z"/>
<path class="k" d="M1215,420 L1290,470 L1365,365 M1290,470 L1300,520 M1290,470 L1210,540 L1185,640 L1200,715 M1160,560 L1195,575"/>
<path class="h" d="M1235,400 L1305,445 M1248,380 L1318,425 M1260,360 L1332,405 M1272,340 L1345,385"/>
<ellipse class="k" cx="1225" cy="665" rx="22" ry="30" transform="rotate(-20 1225 665)"/>
<path class="t" d="M1212,650 L1215,685 M1222,645 L1225,690 M1232,645 L1235,685"/>
<!-- 65 -->
<path class="w" style="stroke-width:1.7" d="M1252,702 L1290,680 L1345,715 L1360,740 L1350,762 L1320,772 L1262,735 Z"/>
<path class="k" d="M1290,680 L1300,715 L1320,772 M1300,715 L1345,715"/>
<ellipse class="k" cx="1335" cy="742" rx="16" ry="22"/><ellipse class="k" cx="1335" cy="742" rx="8" ry="11"/>
<circle cx="1270" cy="715" r="5" fill="#111"/>
<!-- base plate left edges continuing -->
<path class="l" d="M1110,608 L1185,642 M1355,748 L1385,762"/>
</g>
<use href="#cring" transform="translate(1320.5,1060.5) scale(1.05)"/>
<path class="l" d="M1045,932 L1072,969 M1182,939 L1182,978 M1224,939 L1224,976 M1254.5,939 L1254.5,1022 M1298,939 L1298,979 M1296,1076 L1292.5,1048 M1327,1094 L1323.5,1064 M1290,1113 L1263,1059 M1263.5,1113 L1255.5,1095 M1218,1113 L1206,1083"/>
<path class="d" d="M1098.3,900 L1098.3,970 M1075,1006 L1151,1050 M1220,1085 L1175,1108"/>
<!-- 61->62 dashed up -->
<path class="d" d="M1098.3,900 L1098.3,884 L1112,876"/>

<!-- 62_fence.svg -->
<g transform="translate(640,1150) scale(0.233333)">
<path class="w" style="stroke-width:1.6" d="M235,415 L248,420 L620,752 L635,810 L600,772 L570,780 L235,486 L240,470 Z"/>
<path class="k" d="M240,470 L585,772 L600,772 M248,420 L252,470 L590,760 L620,752 M235,415 L240,470"/>
<path class="w" style="stroke-width:1.7" d="M385,690 L1310,115 L1350,148 L1345,160 L462,758 C440,770 410,760 395,742 C380,725 375,700 385,690 Z"/>
<path class="k" d="M1350,148 L450,738 C435,748 415,740 405,725 M1345,160 L1340,150"/>
<path class="k" d="M440,745 C430,755 440,768 455,762 L540,716 C548,708 545,700 535,700"/>
<circle cx="275" cy="516" r="5" fill="#111"/>
</g>
<path class="l" d="M667,1297 L703,1271"/>

<g font-family="Liberation Serif" font-weight="bold" font-size="27.5" text-anchor="middle" fill="#0a0a0a" stroke="#0a0a0a" stroke-width="0.45" opacity="0.999"><text transform="translate(372.5,440.8) scale(0.665,1)">1</text><text transform="translate(285,440.8) scale(0.665,1)">2</text><text transform="translate(234,440.8) scale(0.665,1)">3</text><text transform="translate(254.5,137.8) scale(0.665,1)">4</text><text transform="translate(291,137.8) scale(0.665,1)">5</text><text transform="translate(336,137.8) scale(0.665,1)">6</text><text transform="translate(481,134.3) scale(0.665,1)">7</text><text transform="translate(481,176.8) scale(0.665,1)">8</text><text transform="translate(481,215.3) scale(0.665,1)">9</text><text transform="translate(527.5,320.3) scale(0.665,1)">10</text><text transform="translate(562.5,320.3) scale(0.665,1)">11</text><text transform="translate(677.5,265.8) scale(0.665,1)">12</text><text transform="translate(741.5,116.8) scale(0.665,1)">6</text><text transform="translate(816,71.8) scale(0.665,1)">13</text><text transform="translate(856,110.8) scale(0.665,1)">14</text><text transform="translate(882.5,126.8) scale(0.665,1)">15</text><text transform="translate(920,147.8) scale(0.665,1)">16</text><text transform="translate(957.5,146.8) scale(0.665,1)">17</text><text transform="translate(1020,146.8) scale(0.665,1)">18</text><text transform="translate(1162.5,77.8) scale(0.665,1)">19</text><text transform="translate(1301.5,148.3) scale(0.665,1)">6</text><text transform="translate(1185,298.3) scale(0.665,1)">6</text><text transform="translate(1172.5,365.3) scale(0.665,1)">20</text><text transform="translate(985,389.3) scale(0.665,1)">21</text><text transform="translate(841,419.3) scale(0.665,1)">22</text><text transform="translate(857.5,476.8) scale(0.665,1)">23</text><text transform="translate(825,494.3) scale(0.665,1)">24</text><text transform="translate(794,512.3) scale(0.665,1)">25</text><text transform="translate(765,528.3) scale(0.665,1)">26</text><text transform="translate(694,571.8) scale(0.665,1)">27</text><text transform="translate(638.5,602.8) scale(0.665,1)">28</text><text transform="translate(489,688.3) scale(0.665,1)">29</text><text transform="translate(431,721.8) scale(0.665,1)">30</text><text transform="translate(385,748.3) scale(0.665,1)">31</text><text transform="translate(212.5,675.3) scale(0.665,1)">32</text><text transform="translate(1014,548.3) scale(0.665,1)">33</text><text transform="translate(979,551.8) scale(0.665,1)">34</text><text transform="translate(936,551.8) scale(0.665,1)">35</text><text transform="translate(868.5,629.3) scale(0.665,1)">36</text><text transform="translate(798.5,629.3) scale(0.665,1)">37</text><text transform="translate(798.5,796.8) scale(0.665,1)">38</text><text transform="translate(1122.5,638.3) scale(0.665,1)">39</text><text transform="translate(895,710.8) scale(0.665,1)">40</text><text transform="translate(841,726.8) scale(0.665,1)">41</text><text transform="translate(996,790.8) scale(0.665,1)">42</text><text transform="translate(962.5,809.3) scale(0.665,1)">43</text><text transform="translate(892.5,846.8) scale(0.665,1)">44</text><text transform="translate(866.5,861.8) scale(0.665,1)">45</text><text transform="translate(819,839.3) scale(0.665,1)">46</text><text transform="translate(789,855.8) scale(0.665,1)">47</text><text transform="translate(756,879.3) scale(0.665,1)">31</text><text transform="translate(730,893.3) scale(0.665,1)">48</text><text transform="translate(706.5,907.8) scale(0.665,1)">49</text><text transform="translate(666.5,907.8) scale(0.665,1)">50</text><text transform="translate(588.5,907.8) scale(0.665,1)">51</text><text transform="translate(532.5,907.8) scale(0.665,1)">52</text><text transform="translate(527.5,969.3) scale(0.665,1)">38</text><text transform="translate(517.5,996.8) scale(0.665,1)">53</text><text transform="translate(487.5,1016.8) scale(0.665,1)">47</text><text transform="translate(456,1036.3) scale(0.665,1)">54</text><text transform="translate(345,1098.3) scale(0.665,1)">55</text><text transform="translate(312.5,1116.8) scale(0.665,1)">56</text><text transform="translate(280,1134.3) scale(0.665,1)">57</text><text transform="translate(240,1158.3) scale(0.665,1)">58</text><text transform="translate(1172.5,896.8) scale(0.665,1)">59</text><text transform="translate(1140,901.8) scale(0.665,1)">60</text><text transform="translate(1082.5,901.8) scale(0.665,1)">61</text><text transform="translate(1041.5,929.8) scale(0.665,1)">62</text><text transform="translate(1182,936.3) scale(0.665,1)">63</text><text transform="translate(1222.5,936.8) scale(0.665,1)">64</text><text transform="translate(1255,936.8) scale(0.665,1)">36</text><text transform="translate(1296.5,936.8) scale(0.665,1)">35</text><text transform="translate(1296.5,1098.3) scale(0.665,1)">65</text><text transform="translate(1321.5,1114.3) scale(0.665,1)">33</text><text transform="translate(1297.6,1134.3) scale(0.665,1)">66</text><text transform="translate(1264.6,1134.3) scale(0.665,1)">67</text><text transform="translate(1227.4,1134.3) scale(0.665,1)">68</text><text transform="translate(1268.5,1224.3) scale(0.665,1)">69</text><text transform="translate(1079.5,1255.8) scale(0.665,1)">70</text><text transform="translate(884,1045.3) scale(0.665,1)">71</text><text transform="translate(848.5,1045.3) scale(0.665,1)">72</text><text transform="translate(807.5,1045.3) scale(0.665,1)">73</text><text transform="translate(657.5,1307.8) scale(0.665,1)">74</text></g>
</svg>
</body></html>
